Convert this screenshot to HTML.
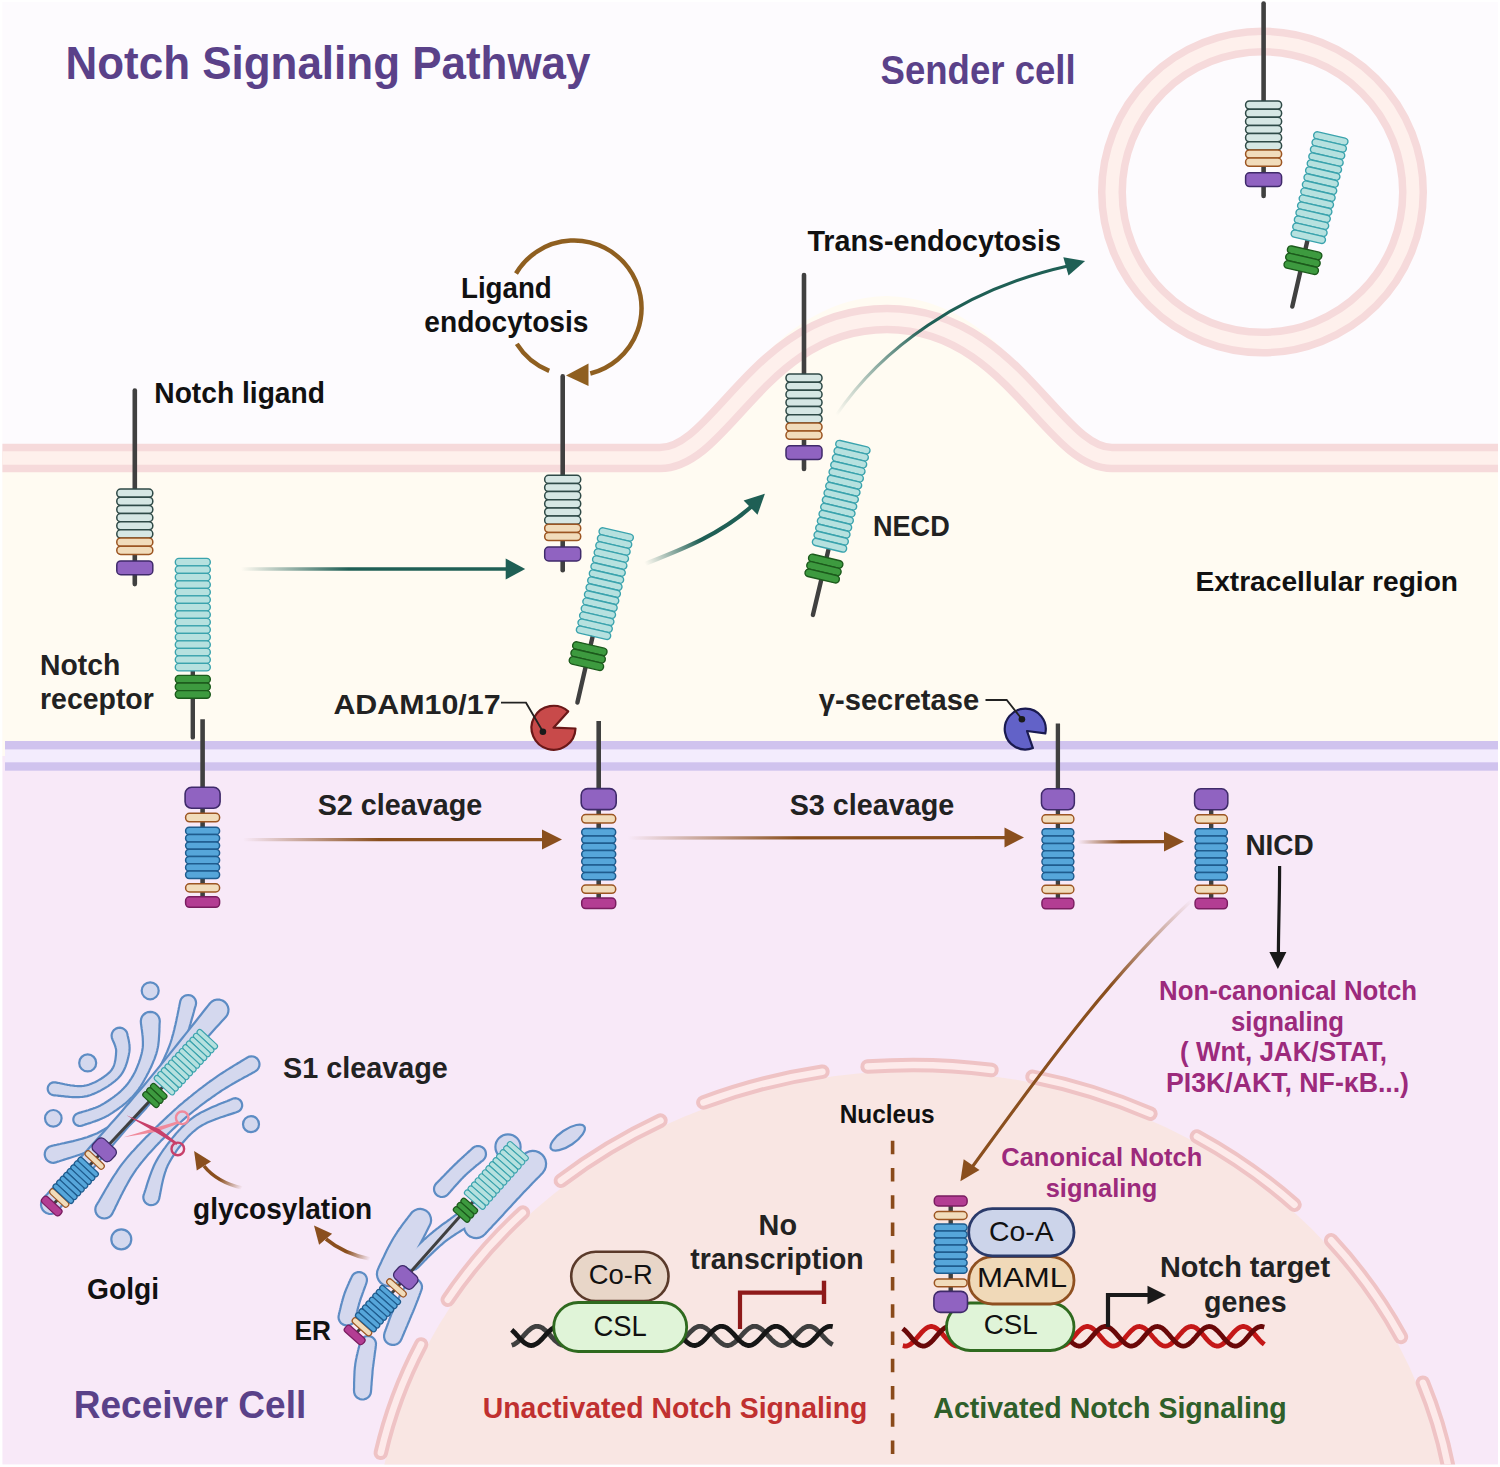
<!DOCTYPE html>
<html><head><meta charset="utf-8"><style>html,body{margin:0;padding:0;background:#fff;}svg{display:block;}</style></head>
<body><svg width="1500" height="1467" viewBox="0 0 1500 1467" font-family="Liberation Sans, sans-serif">
<defs>
<linearGradient id="fadeT1" x1="0" x2="1" y1="0" y2="0"><stop offset="0" stop-color="#1f5f55" stop-opacity="0"/><stop offset="0.35" stop-color="#1f5f55" stop-opacity="1"/></linearGradient>
<linearGradient id="fadeB1" x1="0" x2="1" y1="0" y2="0"><stop offset="0" stop-color="#8a4f1e" stop-opacity="0"/><stop offset="0.3" stop-color="#8a4f1e" stop-opacity="1"/></linearGradient>
</defs>
<rect x="0" y="0" width="1500" height="1467" fill="#ffffff"/>
<rect x="2.4" y="2" width="1495.6" height="760" fill="#fdfbfe"/>
<path d="M 2.4 458 L 650 458 C 718 458 752 300 887 296 C 1020 300 1058 458 1120 458 L 1498 458 L 1498 760 L 2.4 760 Z" fill="#fffbf2"/>
<rect x="2.4" y="756" width="1495.6" height="708.4" fill="#f8e9f8"/>
<path d="M 2.4 458 L 660 458 C 722 458 760 319 887 319 C 1012 319 1052 458 1112 458 L 1498 458" fill="none" stroke="#f6dadb" stroke-width="28.5"/>
<path d="M 2.4 458 L 660 458 C 722 458 760 319 887 319 C 1012 319 1052 458 1112 458 L 1498 458" fill="none" stroke="#fef0ec" stroke-width="13.5"/>
<circle cx="1262.5" cy="192" r="150.5" fill="none" stroke="#f6dadb" stroke-width="28"/>
<circle cx="1262.5" cy="192" r="150.5" fill="none" stroke="#fef0ec" stroke-width="13"/>
<rect x="5" y="741" width="1493" height="29.7" fill="#d0c3ee"/>
<rect x="5" y="749.4" width="1493" height="12.9" fill="#f3ecfd"/>
<clipPath id="pg"><rect x="2.4" y="2" width="1495.6" height="1462.4"/></clipPath>
<g clip-path="url(#pg)">
<ellipse cx="913.05" cy="1550.48" rx="537.3" ry="479.57" fill="#f9e6e3"/>
<path d="M 380.8 1452.8 A 543.3 485.57 0 0 1 421.1 1344.5" fill="none" stroke="#efc3c5" stroke-width="14.5" stroke-linecap="round"/>
<path d="M 380.8 1452.8 A 543.3 485.57 0 0 1 421.1 1344.5" fill="none" stroke="#fdeaea" stroke-width="6.5" stroke-linecap="round"/>
<path d="M 447.8 1299.7 A 543.3 485.57 0 0 1 522.9 1212.6" fill="none" stroke="#efc3c5" stroke-width="14.5" stroke-linecap="round"/>
<path d="M 447.8 1299.7 A 543.3 485.57 0 0 1 522.9 1212.6" fill="none" stroke="#fdeaea" stroke-width="6.5" stroke-linecap="round"/>
<path d="M 560.9 1180.7 A 543.3 485.57 0 0 1 660.5 1120.6" fill="none" stroke="#efc3c5" stroke-width="14.5" stroke-linecap="round"/>
<path d="M 560.9 1180.7 A 543.3 485.57 0 0 1 660.5 1120.6" fill="none" stroke="#fdeaea" stroke-width="6.5" stroke-linecap="round"/>
<path d="M 703.4 1102.5 A 543.3 485.57 0 0 1 822.4 1071.7" fill="none" stroke="#efc3c5" stroke-width="14.5" stroke-linecap="round"/>
<path d="M 703.4 1102.5 A 543.3 485.57 0 0 1 822.4 1071.7" fill="none" stroke="#fdeaea" stroke-width="6.5" stroke-linecap="round"/>
<path d="M 867.6 1066.6 A 543.3 485.57 0 0 1 991.5 1070.0" fill="none" stroke="#efc3c5" stroke-width="14.5" stroke-linecap="round"/>
<path d="M 867.6 1066.6 A 543.3 485.57 0 0 1 991.5 1070.0" fill="none" stroke="#fdeaea" stroke-width="6.5" stroke-linecap="round"/>
<path d="M 1032.5 1076.8 A 543.3 485.57 0 0 1 1150.4 1113.7" fill="none" stroke="#efc3c5" stroke-width="14.5" stroke-linecap="round"/>
<path d="M 1032.5 1076.8 A 543.3 485.57 0 0 1 1150.4 1113.7" fill="none" stroke="#fdeaea" stroke-width="6.5" stroke-linecap="round"/>
<path d="M 1196.9 1136.5 A 543.3 485.57 0 0 1 1294.5 1204.7" fill="none" stroke="#efc3c5" stroke-width="14.5" stroke-linecap="round"/>
<path d="M 1196.9 1136.5 A 543.3 485.57 0 0 1 1294.5 1204.7" fill="none" stroke="#fdeaea" stroke-width="6.5" stroke-linecap="round"/>
<path d="M 1331.1 1240.3 A 543.3 485.57 0 0 1 1400.9 1336.9" fill="none" stroke="#efc3c5" stroke-width="14.5" stroke-linecap="round"/>
<path d="M 1331.1 1240.3 A 543.3 485.57 0 0 1 1400.9 1336.9" fill="none" stroke="#fdeaea" stroke-width="6.5" stroke-linecap="round"/>
<path d="M 1422.9 1382.8 A 543.3 485.57 0 0 1 1451.1 1482.9" fill="none" stroke="#efc3c5" stroke-width="14.5" stroke-linecap="round"/>
<path d="M 1422.9 1382.8 A 543.3 485.57 0 0 1 1451.1 1482.9" fill="none" stroke="#fdeaea" stroke-width="6.5" stroke-linecap="round"/>
</g>
<g transform="translate(134.8,489.1)"><line x1="0" y1="-98.60000000000002" x2="0" y2="95" stroke="#404040" stroke-width="4.6" stroke-linecap="round"/><rect x="-18.0" y="0.00" width="36" height="8.15" rx="3.8" fill="#d6e7e4" stroke="#2f4a47" stroke-width="1.5"/><rect x="-18.0" y="8.15" width="36" height="8.15" rx="3.8" fill="#d6e7e4" stroke="#2f4a47" stroke-width="1.5"/><rect x="-18.0" y="16.30" width="36" height="8.15" rx="3.8" fill="#d6e7e4" stroke="#2f4a47" stroke-width="1.5"/><rect x="-18.0" y="24.45" width="36" height="8.15" rx="3.8" fill="#d6e7e4" stroke="#2f4a47" stroke-width="1.5"/><rect x="-18.0" y="32.60" width="36" height="8.15" rx="3.8" fill="#d6e7e4" stroke="#2f4a47" stroke-width="1.5"/><rect x="-18.0" y="40.75" width="36" height="8.15" rx="3.8" fill="#d6e7e4" stroke="#2f4a47" stroke-width="1.5"/><rect x="-18.0" y="48.90" width="36" height="8.2" rx="3.8" fill="#f1dcbb" stroke="#9c5522" stroke-width="1.5"/><rect x="-18.0" y="57.10" width="36" height="8.2" rx="3.8" fill="#f1dcbb" stroke="#9c5522" stroke-width="1.5"/><rect x="-18" y="71.8" width="36" height="13.8" rx="4" fill="#9063c1" stroke="#3f2a6a" stroke-width="1.5"/></g>
<g transform="translate(562.7,475.3)"><line x1="0" y1="-98.90000000000003" x2="0" y2="95" stroke="#404040" stroke-width="4.6" stroke-linecap="round"/><rect x="-18.0" y="0.00" width="36" height="8.15" rx="3.8" fill="#d6e7e4" stroke="#2f4a47" stroke-width="1.5"/><rect x="-18.0" y="8.15" width="36" height="8.15" rx="3.8" fill="#d6e7e4" stroke="#2f4a47" stroke-width="1.5"/><rect x="-18.0" y="16.30" width="36" height="8.15" rx="3.8" fill="#d6e7e4" stroke="#2f4a47" stroke-width="1.5"/><rect x="-18.0" y="24.45" width="36" height="8.15" rx="3.8" fill="#d6e7e4" stroke="#2f4a47" stroke-width="1.5"/><rect x="-18.0" y="32.60" width="36" height="8.15" rx="3.8" fill="#d6e7e4" stroke="#2f4a47" stroke-width="1.5"/><rect x="-18.0" y="40.75" width="36" height="8.15" rx="3.8" fill="#d6e7e4" stroke="#2f4a47" stroke-width="1.5"/><rect x="-18.0" y="48.90" width="36" height="8.2" rx="3.8" fill="#f1dcbb" stroke="#9c5522" stroke-width="1.5"/><rect x="-18.0" y="57.10" width="36" height="8.2" rx="3.8" fill="#f1dcbb" stroke="#9c5522" stroke-width="1.5"/><rect x="-18" y="71.8" width="36" height="13.8" rx="4" fill="#9063c1" stroke="#3f2a6a" stroke-width="1.5"/></g>
<g transform="translate(804,374)"><line x1="0" y1="-99" x2="0" y2="95" stroke="#404040" stroke-width="4.6" stroke-linecap="round"/><rect x="-18.0" y="0.00" width="36" height="8.15" rx="3.8" fill="#d6e7e4" stroke="#2f4a47" stroke-width="1.5"/><rect x="-18.0" y="8.15" width="36" height="8.15" rx="3.8" fill="#d6e7e4" stroke="#2f4a47" stroke-width="1.5"/><rect x="-18.0" y="16.30" width="36" height="8.15" rx="3.8" fill="#d6e7e4" stroke="#2f4a47" stroke-width="1.5"/><rect x="-18.0" y="24.45" width="36" height="8.15" rx="3.8" fill="#d6e7e4" stroke="#2f4a47" stroke-width="1.5"/><rect x="-18.0" y="32.60" width="36" height="8.15" rx="3.8" fill="#d6e7e4" stroke="#2f4a47" stroke-width="1.5"/><rect x="-18.0" y="40.75" width="36" height="8.15" rx="3.8" fill="#d6e7e4" stroke="#2f4a47" stroke-width="1.5"/><rect x="-18.0" y="48.90" width="36" height="8.2" rx="3.8" fill="#f1dcbb" stroke="#9c5522" stroke-width="1.5"/><rect x="-18.0" y="57.10" width="36" height="8.2" rx="3.8" fill="#f1dcbb" stroke="#9c5522" stroke-width="1.5"/><rect x="-18" y="71.8" width="36" height="13.8" rx="4" fill="#9063c1" stroke="#3f2a6a" stroke-width="1.5"/></g>
<g transform="translate(1263.6,101)"><line x1="0" y1="-97.5" x2="0" y2="95" stroke="#404040" stroke-width="4.6" stroke-linecap="round"/><rect x="-18.0" y="0.00" width="36" height="8.15" rx="3.8" fill="#d6e7e4" stroke="#2f4a47" stroke-width="1.5"/><rect x="-18.0" y="8.15" width="36" height="8.15" rx="3.8" fill="#d6e7e4" stroke="#2f4a47" stroke-width="1.5"/><rect x="-18.0" y="16.30" width="36" height="8.15" rx="3.8" fill="#d6e7e4" stroke="#2f4a47" stroke-width="1.5"/><rect x="-18.0" y="24.45" width="36" height="8.15" rx="3.8" fill="#d6e7e4" stroke="#2f4a47" stroke-width="1.5"/><rect x="-18.0" y="32.60" width="36" height="8.15" rx="3.8" fill="#d6e7e4" stroke="#2f4a47" stroke-width="1.5"/><rect x="-18.0" y="40.75" width="36" height="8.15" rx="3.8" fill="#d6e7e4" stroke="#2f4a47" stroke-width="1.5"/><rect x="-18.0" y="48.90" width="36" height="8.2" rx="3.8" fill="#f1dcbb" stroke="#9c5522" stroke-width="1.5"/><rect x="-18.0" y="57.10" width="36" height="8.2" rx="3.8" fill="#f1dcbb" stroke="#9c5522" stroke-width="1.5"/><rect x="-18" y="71.8" width="36" height="13.8" rx="4" fill="#9063c1" stroke="#3f2a6a" stroke-width="1.5"/></g>
<g transform="translate(192.8,558.4) rotate(0)"><line x1="0" y1="110.5" x2="0" y2="179" stroke="#404040" stroke-width="4.4" stroke-linecap="round"/><rect x="-17.5" y="0.00" width="35" height="7.5" rx="3.6" fill="#b6e1df" stroke="#3aa3ad" stroke-width="1.4"/><rect x="-17.5" y="7.50" width="35" height="7.5" rx="3.6" fill="#b6e1df" stroke="#3aa3ad" stroke-width="1.4"/><rect x="-17.5" y="15.00" width="35" height="7.5" rx="3.6" fill="#b6e1df" stroke="#3aa3ad" stroke-width="1.4"/><rect x="-17.5" y="22.50" width="35" height="7.5" rx="3.6" fill="#b6e1df" stroke="#3aa3ad" stroke-width="1.4"/><rect x="-17.5" y="30.00" width="35" height="7.5" rx="3.6" fill="#b6e1df" stroke="#3aa3ad" stroke-width="1.4"/><rect x="-17.5" y="37.50" width="35" height="7.5" rx="3.6" fill="#b6e1df" stroke="#3aa3ad" stroke-width="1.4"/><rect x="-17.5" y="45.00" width="35" height="7.5" rx="3.6" fill="#b6e1df" stroke="#3aa3ad" stroke-width="1.4"/><rect x="-17.5" y="52.50" width="35" height="7.5" rx="3.6" fill="#b6e1df" stroke="#3aa3ad" stroke-width="1.4"/><rect x="-17.5" y="60.00" width="35" height="7.5" rx="3.6" fill="#b6e1df" stroke="#3aa3ad" stroke-width="1.4"/><rect x="-17.5" y="67.50" width="35" height="7.5" rx="3.6" fill="#b6e1df" stroke="#3aa3ad" stroke-width="1.4"/><rect x="-17.5" y="75.00" width="35" height="7.5" rx="3.6" fill="#b6e1df" stroke="#3aa3ad" stroke-width="1.4"/><rect x="-17.5" y="82.50" width="35" height="7.5" rx="3.6" fill="#b6e1df" stroke="#3aa3ad" stroke-width="1.4"/><rect x="-17.5" y="90.00" width="35" height="7.5" rx="3.6" fill="#b6e1df" stroke="#3aa3ad" stroke-width="1.4"/><rect x="-17.5" y="97.50" width="35" height="7.5" rx="3.6" fill="#b6e1df" stroke="#3aa3ad" stroke-width="1.4"/><rect x="-17.5" y="105.00" width="35" height="7.5" rx="3.6" fill="#b6e1df" stroke="#3aa3ad" stroke-width="1.4"/><rect x="-17.5" y="117.00" width="35" height="7.6" rx="3.6" fill="#3d9a3f" stroke="#1c5a1c" stroke-width="1.4"/><rect x="-17.5" y="124.60" width="35" height="7.6" rx="3.6" fill="#3d9a3f" stroke="#1c5a1c" stroke-width="1.4"/><rect x="-17.5" y="132.20" width="35" height="7.6" rx="3.6" fill="#3d9a3f" stroke="#1c5a1c" stroke-width="1.4"/></g>
<g transform="translate(617,531) rotate(13)"><line x1="0" y1="106" x2="0" y2="176" stroke="#404040" stroke-width="4.4" stroke-linecap="round"/><rect x="-17.5" y="0.00" width="35" height="7.2" rx="3.6" fill="#b6e1df" stroke="#3aa3ad" stroke-width="1.4"/><rect x="-17.5" y="7.20" width="35" height="7.2" rx="3.6" fill="#b6e1df" stroke="#3aa3ad" stroke-width="1.4"/><rect x="-17.5" y="14.40" width="35" height="7.2" rx="3.6" fill="#b6e1df" stroke="#3aa3ad" stroke-width="1.4"/><rect x="-17.5" y="21.60" width="35" height="7.2" rx="3.6" fill="#b6e1df" stroke="#3aa3ad" stroke-width="1.4"/><rect x="-17.5" y="28.80" width="35" height="7.2" rx="3.6" fill="#b6e1df" stroke="#3aa3ad" stroke-width="1.4"/><rect x="-17.5" y="36.00" width="35" height="7.2" rx="3.6" fill="#b6e1df" stroke="#3aa3ad" stroke-width="1.4"/><rect x="-17.5" y="43.20" width="35" height="7.2" rx="3.6" fill="#b6e1df" stroke="#3aa3ad" stroke-width="1.4"/><rect x="-17.5" y="50.40" width="35" height="7.2" rx="3.6" fill="#b6e1df" stroke="#3aa3ad" stroke-width="1.4"/><rect x="-17.5" y="57.60" width="35" height="7.2" rx="3.6" fill="#b6e1df" stroke="#3aa3ad" stroke-width="1.4"/><rect x="-17.5" y="64.80" width="35" height="7.2" rx="3.6" fill="#b6e1df" stroke="#3aa3ad" stroke-width="1.4"/><rect x="-17.5" y="72.00" width="35" height="7.2" rx="3.6" fill="#b6e1df" stroke="#3aa3ad" stroke-width="1.4"/><rect x="-17.5" y="79.20" width="35" height="7.2" rx="3.6" fill="#b6e1df" stroke="#3aa3ad" stroke-width="1.4"/><rect x="-17.5" y="86.40" width="35" height="7.2" rx="3.6" fill="#b6e1df" stroke="#3aa3ad" stroke-width="1.4"/><rect x="-17.5" y="93.60" width="35" height="7.2" rx="3.6" fill="#b6e1df" stroke="#3aa3ad" stroke-width="1.4"/><rect x="-17.5" y="100.80" width="35" height="7.2" rx="3.6" fill="#b6e1df" stroke="#3aa3ad" stroke-width="1.4"/><rect x="-17.5" y="117.00" width="35" height="7.6" rx="3.6" fill="#3d9a3f" stroke="#1c5a1c" stroke-width="1.4"/><rect x="-17.5" y="124.60" width="35" height="7.6" rx="3.6" fill="#3d9a3f" stroke="#1c5a1c" stroke-width="1.4"/><rect x="-17.5" y="132.20" width="35" height="7.6" rx="3.6" fill="#3d9a3f" stroke="#1c5a1c" stroke-width="1.4"/></g>
<g transform="translate(853.7,443.7) rotate(13.4)"><line x1="0" y1="106" x2="0" y2="176" stroke="#404040" stroke-width="4.4" stroke-linecap="round"/><rect x="-17.5" y="0.00" width="35" height="7.2" rx="3.6" fill="#b6e1df" stroke="#3aa3ad" stroke-width="1.4"/><rect x="-17.5" y="7.20" width="35" height="7.2" rx="3.6" fill="#b6e1df" stroke="#3aa3ad" stroke-width="1.4"/><rect x="-17.5" y="14.40" width="35" height="7.2" rx="3.6" fill="#b6e1df" stroke="#3aa3ad" stroke-width="1.4"/><rect x="-17.5" y="21.60" width="35" height="7.2" rx="3.6" fill="#b6e1df" stroke="#3aa3ad" stroke-width="1.4"/><rect x="-17.5" y="28.80" width="35" height="7.2" rx="3.6" fill="#b6e1df" stroke="#3aa3ad" stroke-width="1.4"/><rect x="-17.5" y="36.00" width="35" height="7.2" rx="3.6" fill="#b6e1df" stroke="#3aa3ad" stroke-width="1.4"/><rect x="-17.5" y="43.20" width="35" height="7.2" rx="3.6" fill="#b6e1df" stroke="#3aa3ad" stroke-width="1.4"/><rect x="-17.5" y="50.40" width="35" height="7.2" rx="3.6" fill="#b6e1df" stroke="#3aa3ad" stroke-width="1.4"/><rect x="-17.5" y="57.60" width="35" height="7.2" rx="3.6" fill="#b6e1df" stroke="#3aa3ad" stroke-width="1.4"/><rect x="-17.5" y="64.80" width="35" height="7.2" rx="3.6" fill="#b6e1df" stroke="#3aa3ad" stroke-width="1.4"/><rect x="-17.5" y="72.00" width="35" height="7.2" rx="3.6" fill="#b6e1df" stroke="#3aa3ad" stroke-width="1.4"/><rect x="-17.5" y="79.20" width="35" height="7.2" rx="3.6" fill="#b6e1df" stroke="#3aa3ad" stroke-width="1.4"/><rect x="-17.5" y="86.40" width="35" height="7.2" rx="3.6" fill="#b6e1df" stroke="#3aa3ad" stroke-width="1.4"/><rect x="-17.5" y="93.60" width="35" height="7.2" rx="3.6" fill="#b6e1df" stroke="#3aa3ad" stroke-width="1.4"/><rect x="-17.5" y="100.80" width="35" height="7.2" rx="3.6" fill="#b6e1df" stroke="#3aa3ad" stroke-width="1.4"/><rect x="-17.5" y="117.00" width="35" height="7.6" rx="3.6" fill="#3d9a3f" stroke="#1c5a1c" stroke-width="1.4"/><rect x="-17.5" y="124.60" width="35" height="7.6" rx="3.6" fill="#3d9a3f" stroke="#1c5a1c" stroke-width="1.4"/><rect x="-17.5" y="132.20" width="35" height="7.6" rx="3.6" fill="#3d9a3f" stroke="#1c5a1c" stroke-width="1.4"/></g>
<g transform="translate(1331.6,135) rotate(12.9)"><line x1="0" y1="106" x2="0" y2="176" stroke="#404040" stroke-width="4.4" stroke-linecap="round"/><rect x="-17.5" y="0.00" width="35" height="7.2" rx="3.6" fill="#b6e1df" stroke="#3aa3ad" stroke-width="1.4"/><rect x="-17.5" y="7.20" width="35" height="7.2" rx="3.6" fill="#b6e1df" stroke="#3aa3ad" stroke-width="1.4"/><rect x="-17.5" y="14.40" width="35" height="7.2" rx="3.6" fill="#b6e1df" stroke="#3aa3ad" stroke-width="1.4"/><rect x="-17.5" y="21.60" width="35" height="7.2" rx="3.6" fill="#b6e1df" stroke="#3aa3ad" stroke-width="1.4"/><rect x="-17.5" y="28.80" width="35" height="7.2" rx="3.6" fill="#b6e1df" stroke="#3aa3ad" stroke-width="1.4"/><rect x="-17.5" y="36.00" width="35" height="7.2" rx="3.6" fill="#b6e1df" stroke="#3aa3ad" stroke-width="1.4"/><rect x="-17.5" y="43.20" width="35" height="7.2" rx="3.6" fill="#b6e1df" stroke="#3aa3ad" stroke-width="1.4"/><rect x="-17.5" y="50.40" width="35" height="7.2" rx="3.6" fill="#b6e1df" stroke="#3aa3ad" stroke-width="1.4"/><rect x="-17.5" y="57.60" width="35" height="7.2" rx="3.6" fill="#b6e1df" stroke="#3aa3ad" stroke-width="1.4"/><rect x="-17.5" y="64.80" width="35" height="7.2" rx="3.6" fill="#b6e1df" stroke="#3aa3ad" stroke-width="1.4"/><rect x="-17.5" y="72.00" width="35" height="7.2" rx="3.6" fill="#b6e1df" stroke="#3aa3ad" stroke-width="1.4"/><rect x="-17.5" y="79.20" width="35" height="7.2" rx="3.6" fill="#b6e1df" stroke="#3aa3ad" stroke-width="1.4"/><rect x="-17.5" y="86.40" width="35" height="7.2" rx="3.6" fill="#b6e1df" stroke="#3aa3ad" stroke-width="1.4"/><rect x="-17.5" y="93.60" width="35" height="7.2" rx="3.6" fill="#b6e1df" stroke="#3aa3ad" stroke-width="1.4"/><rect x="-17.5" y="100.80" width="35" height="7.2" rx="3.6" fill="#b6e1df" stroke="#3aa3ad" stroke-width="1.4"/><rect x="-17.5" y="117.00" width="35" height="7.6" rx="3.6" fill="#3d9a3f" stroke="#1c5a1c" stroke-width="1.4"/><rect x="-17.5" y="124.60" width="35" height="7.6" rx="3.6" fill="#3d9a3f" stroke="#1c5a1c" stroke-width="1.4"/><rect x="-17.5" y="132.20" width="35" height="7.6" rx="3.6" fill="#3d9a3f" stroke="#1c5a1c" stroke-width="1.4"/></g>
<g transform="translate(202.6,787.3) scale(1.0,1)"><line x1="0" y1="-68.0" x2="0" y2="112" stroke="#404040" stroke-width="4.6"/><rect x="-17.5" y="0" width="35" height="21" rx="6.5" fill="#9063c1" stroke="#3f2a6a" stroke-width="1.6"/><rect x="-17" y="26" width="34" height="8.5" rx="4" fill="#f1dcbb" stroke="#9c5522" stroke-width="1.5"/><rect x="-17.0" y="40.00" width="34" height="7.3" rx="3.6" fill="#56a6da" stroke="#1f5c8e" stroke-width="1.5"/><rect x="-17.0" y="47.30" width="34" height="7.3" rx="3.6" fill="#56a6da" stroke="#1f5c8e" stroke-width="1.5"/><rect x="-17.0" y="54.60" width="34" height="7.3" rx="3.6" fill="#56a6da" stroke="#1f5c8e" stroke-width="1.5"/><rect x="-17.0" y="61.90" width="34" height="7.3" rx="3.6" fill="#56a6da" stroke="#1f5c8e" stroke-width="1.5"/><rect x="-17.0" y="69.20" width="34" height="7.3" rx="3.6" fill="#56a6da" stroke="#1f5c8e" stroke-width="1.5"/><rect x="-17.0" y="76.50" width="34" height="7.3" rx="3.6" fill="#56a6da" stroke="#1f5c8e" stroke-width="1.5"/><rect x="-17.0" y="83.80" width="34" height="7.3" rx="3.6" fill="#56a6da" stroke="#1f5c8e" stroke-width="1.5"/><rect x="-17" y="96.5" width="34" height="8.2" rx="4" fill="#f1dcbb" stroke="#9c5522" stroke-width="1.5"/><rect x="-17" y="109.5" width="34" height="10.5" rx="4" fill="#b33d93" stroke="#7a1d60" stroke-width="1.5"/></g>
<g transform="translate(598.7,788.6) scale(1.0,1)"><line x1="0" y1="-67.60000000000002" x2="0" y2="112" stroke="#404040" stroke-width="4.6"/><rect x="-17.5" y="0" width="35" height="21" rx="6.5" fill="#9063c1" stroke="#3f2a6a" stroke-width="1.6"/><rect x="-17" y="26" width="34" height="8.5" rx="4" fill="#f1dcbb" stroke="#9c5522" stroke-width="1.5"/><rect x="-17.0" y="40.00" width="34" height="7.3" rx="3.6" fill="#56a6da" stroke="#1f5c8e" stroke-width="1.5"/><rect x="-17.0" y="47.30" width="34" height="7.3" rx="3.6" fill="#56a6da" stroke="#1f5c8e" stroke-width="1.5"/><rect x="-17.0" y="54.60" width="34" height="7.3" rx="3.6" fill="#56a6da" stroke="#1f5c8e" stroke-width="1.5"/><rect x="-17.0" y="61.90" width="34" height="7.3" rx="3.6" fill="#56a6da" stroke="#1f5c8e" stroke-width="1.5"/><rect x="-17.0" y="69.20" width="34" height="7.3" rx="3.6" fill="#56a6da" stroke="#1f5c8e" stroke-width="1.5"/><rect x="-17.0" y="76.50" width="34" height="7.3" rx="3.6" fill="#56a6da" stroke="#1f5c8e" stroke-width="1.5"/><rect x="-17.0" y="83.80" width="34" height="7.3" rx="3.6" fill="#56a6da" stroke="#1f5c8e" stroke-width="1.5"/><rect x="-17" y="96.5" width="34" height="8.2" rx="4" fill="#f1dcbb" stroke="#9c5522" stroke-width="1.5"/><rect x="-17" y="109.5" width="34" height="10.5" rx="4" fill="#b33d93" stroke="#7a1d60" stroke-width="1.5"/></g>
<g transform="translate(1057.9,788.8) scale(0.94,1)"><line x1="0" y1="-65.39999999999998" x2="0" y2="112" stroke="#404040" stroke-width="4.6"/><rect x="-17.5" y="0" width="35" height="21" rx="6.5" fill="#9063c1" stroke="#3f2a6a" stroke-width="1.6"/><rect x="-17" y="26" width="34" height="8.5" rx="4" fill="#f1dcbb" stroke="#9c5522" stroke-width="1.5"/><rect x="-17.0" y="40.00" width="34" height="7.3" rx="3.6" fill="#56a6da" stroke="#1f5c8e" stroke-width="1.5"/><rect x="-17.0" y="47.30" width="34" height="7.3" rx="3.6" fill="#56a6da" stroke="#1f5c8e" stroke-width="1.5"/><rect x="-17.0" y="54.60" width="34" height="7.3" rx="3.6" fill="#56a6da" stroke="#1f5c8e" stroke-width="1.5"/><rect x="-17.0" y="61.90" width="34" height="7.3" rx="3.6" fill="#56a6da" stroke="#1f5c8e" stroke-width="1.5"/><rect x="-17.0" y="69.20" width="34" height="7.3" rx="3.6" fill="#56a6da" stroke="#1f5c8e" stroke-width="1.5"/><rect x="-17.0" y="76.50" width="34" height="7.3" rx="3.6" fill="#56a6da" stroke="#1f5c8e" stroke-width="1.5"/><rect x="-17.0" y="83.80" width="34" height="7.3" rx="3.6" fill="#56a6da" stroke="#1f5c8e" stroke-width="1.5"/><rect x="-17" y="96.5" width="34" height="8.2" rx="4" fill="#f1dcbb" stroke="#9c5522" stroke-width="1.5"/><rect x="-17" y="109.5" width="34" height="10.5" rx="4" fill="#b33d93" stroke="#7a1d60" stroke-width="1.5"/></g>
<g transform="translate(1211.2,788.8) scale(0.95,1)"><line x1="0" y1="10" x2="0" y2="112" stroke="#404040" stroke-width="4.6"/><rect x="-17.5" y="0" width="35" height="21" rx="6.5" fill="#9063c1" stroke="#3f2a6a" stroke-width="1.6"/><rect x="-17" y="26" width="34" height="8.5" rx="4" fill="#f1dcbb" stroke="#9c5522" stroke-width="1.5"/><rect x="-17.0" y="40.00" width="34" height="7.3" rx="3.6" fill="#56a6da" stroke="#1f5c8e" stroke-width="1.5"/><rect x="-17.0" y="47.30" width="34" height="7.3" rx="3.6" fill="#56a6da" stroke="#1f5c8e" stroke-width="1.5"/><rect x="-17.0" y="54.60" width="34" height="7.3" rx="3.6" fill="#56a6da" stroke="#1f5c8e" stroke-width="1.5"/><rect x="-17.0" y="61.90" width="34" height="7.3" rx="3.6" fill="#56a6da" stroke="#1f5c8e" stroke-width="1.5"/><rect x="-17.0" y="69.20" width="34" height="7.3" rx="3.6" fill="#56a6da" stroke="#1f5c8e" stroke-width="1.5"/><rect x="-17.0" y="76.50" width="34" height="7.3" rx="3.6" fill="#56a6da" stroke="#1f5c8e" stroke-width="1.5"/><rect x="-17.0" y="83.80" width="34" height="7.3" rx="3.6" fill="#56a6da" stroke="#1f5c8e" stroke-width="1.5"/><rect x="-17" y="96.5" width="34" height="8.2" rx="4" fill="#f1dcbb" stroke="#9c5522" stroke-width="1.5"/><rect x="-17" y="109.5" width="34" height="10.5" rx="4" fill="#b33d93" stroke="#7a1d60" stroke-width="1.5"/></g>
<linearGradient id="ga1" gradientUnits="userSpaceOnUse" x1="241" y1="569" x2="510" y2="569"><stop offset="0" stop-color="#1f5f55" stop-opacity="0"/><stop offset="0.4" stop-color="#1f5f55" stop-opacity="1"/></linearGradient>
<path d="M 241 569 L 508 569" stroke="url(#ga1)" stroke-width="3.4" fill="none"/>
<path d="M 525.2 569.0 L 505.7 579.5 L 505.7 558.5 Z" fill="#1f5f55"/>
<linearGradient id="ga2" gradientUnits="userSpaceOnUse" x1="645" y1="564" x2="750" y2="507"><stop offset="0" stop-color="#1f5f55" stop-opacity="0"/><stop offset="0.5" stop-color="#1f5f55" stop-opacity="1"/></linearGradient>
<path d="M 644.9 563.9 C 680 550 720 535 752 506" stroke="url(#ga2)" stroke-width="4.2" fill="none"/>
<path d="M 764.9 493.7 L 757.5 514.8 L 743.6 500.4 Z" fill="#1f5f55"/>
<linearGradient id="ga3" gradientUnits="userSpaceOnUse" x1="836" y1="415" x2="960" y2="300"><stop offset="0" stop-color="#1f5f55" stop-opacity="0"/><stop offset="0.75" stop-color="#1f5f55" stop-opacity="1"/></linearGradient>
<path d="M 836 415.5 C 880 350 960 290 1068 266" stroke="url(#ga3)" stroke-width="3.1" fill="none"/>
<path d="M 1085.1 260.9 L 1068.5 275.5 L 1063.3 257.3 Z" fill="#1f5f55"/>
<linearGradient id="gb1" gradientUnits="userSpaceOnUse" x1="243" y1="840" x2="545" y2="840"><stop offset="0" stop-color="#8a4f1e" stop-opacity="0"/><stop offset="0.45" stop-color="#8a4f1e" stop-opacity="1"/></linearGradient>
<path d="M 243 839.6 L 545 839.6" stroke="url(#gb1)" stroke-width="3.4" fill="none"/>
<path d="M 562.0 839.6 L 542.0 849.6 L 542.0 829.6 Z" fill="#8a4f1e"/>
<linearGradient id="gb2" gradientUnits="userSpaceOnUse" x1="628" y1="838" x2="1005" y2="838"><stop offset="0" stop-color="#8a4f1e" stop-opacity="0"/><stop offset="0.45" stop-color="#8a4f1e" stop-opacity="1"/></linearGradient>
<path d="M 628 838 L 1006 837.6" stroke="url(#gb2)" stroke-width="3.4" fill="none"/>
<path d="M 1024.0 837.5 L 1004.5 847.5 L 1004.5 827.5 Z" fill="#8a4f1e"/>
<linearGradient id="gb3" gradientUnits="userSpaceOnUse" x1="1078" y1="842" x2="1165" y2="842"><stop offset="0" stop-color="#8a4f1e" stop-opacity="0"/><stop offset="0.5" stop-color="#8a4f1e" stop-opacity="1"/></linearGradient>
<path d="M 1078 842 L 1166 841.6" stroke="url(#gb3)" stroke-width="3.4" fill="none"/>
<path d="M 1184.0 841.6 L 1164.0 851.6 L 1164.0 831.6 Z" fill="#8a4f1e"/>
<path d="M 516.0 273.5 A 67.5 67.5 0 1 1 590.3 373.5" stroke="#8f5f20" stroke-width="4.5" fill="none"/>
<path d="M 549.2 370.8 A 67.5 67.5 0 0 1 516.8 343.9" stroke="#8f5f20" stroke-width="4.5" fill="none"/>
<path d="M 566 375.5 L 588.5 363.5 L 588.5 386 Z" fill="#8f5f20"/>
<linearGradient id="gc1" gradientUnits="userSpaceOnUse" x1="1192" y1="900" x2="1060" y2="1048"><stop offset="0" stop-color="#8a4f1e" stop-opacity="0"/><stop offset="0.6" stop-color="#8a4f1e" stop-opacity="1"/></linearGradient>
<path d="M 1192 900 C 1106 980 1038.5 1076 970 1170" stroke="url(#gc1)" stroke-width="3.1" fill="none"/>
<path d="M 960.4 1181.2 L 963.7 1159.3 L 979.5 1169.9 Z" fill="#8a4f1e"/>
<path d="M 1279.6 866 C 1279.6 900 1278.4 930 1278.4 954" stroke="#1a1a1a" stroke-width="3.2" fill="none"/>
<path d="M 1277.9 969.0 L 1269.4 952.0 L 1286.4 952.0 Z" fill="#1a1a1a"/>
<path d="M 553.5 727.7 L 575.5 728.5 A 22 22 0 1 1 568.2 711.4 Z" fill="#c84a4a" stroke="#6a1818" stroke-width="2.2" stroke-linejoin="round"/>
<path d="M 501 702.7 L 526 702.7 L 543 731.8" stroke="#222" stroke-width="1.8" fill="none"/>
<circle cx="542.9" cy="731.8" r="3.3" fill="#1a1a1a"/>
<path d="M 1027 731 L 1032.9 748.1 A 20.5 20.5 0 1 1 1045.3 733.4 Z" fill="#6262c8" stroke="#1a1a50" stroke-width="2.2" stroke-linejoin="round"/>
<path d="M 985.5 700 L 1006.7 700 L 1022 719.3" stroke="#222" stroke-width="1.8" fill="none"/>
<circle cx="1021.9" cy="719.3" r="3.3" fill="#1a1a1a"/>
<line x1="892.6" y1="1140.8" x2="892.6" y2="1464" stroke="#8a4a1a" stroke-width="3.6" stroke-dasharray="13.5 13.75"/>
<polyline points="511.7,1345.3 513.2,1344.8 514.7,1344.1 516.2,1343.1 517.7,1341.9 519.2,1340.5 520.7,1339.0 522.2,1337.3 523.7,1335.7 525.2,1334.0 526.7,1332.4 528.2,1330.9 529.7,1329.6 531.2,1328.4 532.7,1327.5 534.2,1326.8 535.7,1326.4 537.2,1326.3 538.7,1326.5 540.2,1326.9 541.7,1327.6 543.2,1328.6 544.7,1329.8 546.2,1331.1 547.7,1332.6 549.2,1334.2 550.7,1335.9 552.2,1337.6 553.7,1339.2 555.2,1340.7 556.7,1342.0 558.2,1343.2 559.7,1344.2 561.2,1344.9 562.7,1345.3 564.2,1345.5 565.7,1345.4 567.2,1345.0 568.7,1344.3 570.2,1343.4 571.7,1342.2 573.2,1340.9 574.7,1339.4 576.2,1337.8 577.7,1336.1 579.2,1334.5 580.7,1332.8 582.2,1331.3 583.7,1329.9 585.2,1328.7 586.7,1327.7 588.2,1327.0 589.7,1326.5 591.2,1326.3 592.7,1326.4 594.2,1326.8 595.7,1327.4 597.2,1328.3 598.7,1329.4 600.2,1330.8 601.7,1332.2 603.2,1333.8 604.7,1335.5 606.2,1337.1 607.7,1338.7 609.2,1340.3 610.7,1341.7 612.2,1342.9 613.7,1343.9 615.2,1344.7 616.7,1345.2 618.2,1345.5 619.7,1345.4 621.2,1345.1 622.7,1344.5 624.2,1343.6 625.7,1342.5 627.2,1341.2 628.7,1339.8 630.2,1338.2 631.7,1336.6 633.2,1334.9 634.7,1333.3 636.2,1331.7 637.7,1330.3 639.2,1329.0 640.7,1328.0 642.2,1327.2 643.7,1326.6 645.2,1326.3 646.7,1326.3 648.2,1326.6 649.7,1327.2 651.2,1328.0 652.7,1329.1 654.2,1330.4 655.7,1331.8 657.2,1333.4 658.7,1335.0 660.2,1336.7 661.7,1338.3 663.2,1339.9 664.7,1341.3 666.2,1342.6 667.7,1343.7 669.2,1344.5 670.7,1345.1 672.2,1345.4 673.7,1345.5 675.2,1345.2 676.7,1344.7 678.2,1343.9 679.7,1342.8 681.2,1341.6 682.7,1340.2 684.2,1338.6 685.7,1337.0 687.2,1335.3 688.7,1333.7 690.2,1332.1 691.7,1330.7 693.2,1329.4 694.7,1328.2 696.2,1327.4 697.7,1326.7 699.2,1326.4 700.7,1326.3 702.2,1326.5 703.7,1327.0 705.2,1327.8 706.7,1328.8 708.2,1330.0 709.7,1331.4 711.2,1333.0 712.7,1334.6 714.2,1336.2 715.7,1337.9 717.2,1339.5 718.7,1341.0 720.2,1342.3 721.7,1343.4 723.2,1344.3 724.7,1345.0 726.2,1345.4 727.7,1345.5 729.2,1345.3 730.7,1344.9 732.2,1344.1 733.7,1343.1 735.2,1341.9 736.7,1340.6 738.2,1339.1 739.7,1337.4 741.2,1335.8 742.7,1334.1 744.2,1332.5 745.7,1331.0 747.2,1329.7 748.7,1328.5 750.2,1327.6 751.7,1326.9 753.2,1326.4 754.7,1326.3 756.2,1326.4 757.7,1326.9 759.2,1327.6 760.7,1328.5 762.2,1329.7 763.7,1331.0 765.2,1332.5 766.7,1334.1 768.2,1335.8 769.7,1337.4 771.2,1339.1 772.7,1340.6 774.2,1341.9 775.7,1343.1 777.2,1344.1 778.7,1344.9 780.2,1345.3 781.7,1345.5 783.2,1345.4 784.7,1345.0 786.2,1344.3 787.7,1343.4 789.2,1342.3 790.7,1341.0 792.2,1339.5 793.7,1337.9 795.2,1336.2 796.7,1334.6 798.2,1333.0 799.7,1331.4 801.2,1330.0 802.7,1328.8 804.2,1327.8 805.7,1327.0 807.2,1326.5 808.7,1326.3 810.2,1326.4 811.7,1326.7 813.2,1327.4 814.7,1328.2 816.2,1329.4 817.7,1330.7 819.2,1332.1 820.7,1333.7 822.2,1335.3 823.7,1337.0 825.2,1338.6 826.7,1340.2 828.2,1341.6 829.7,1342.8 831.2,1343.9 832.7,1344.7" fill="none" stroke="#404040" stroke-width="4.8" stroke-linejoin="round"/>
<polyline points="511.7,1329.9 513.2,1331.2 514.7,1332.7 516.2,1334.4 517.7,1336.0 519.2,1337.7 520.7,1339.3 522.2,1340.8 523.7,1342.1 525.2,1343.3 526.7,1344.2 528.2,1344.9 529.7,1345.4 531.2,1345.5 532.7,1345.4 534.2,1344.9 535.7,1344.2 537.2,1343.3 538.7,1342.1 540.2,1340.8 541.7,1339.3 543.2,1337.7 544.7,1336.0 546.2,1334.4 547.7,1332.7 549.2,1331.2 550.7,1329.9 552.2,1328.7 553.7,1327.7 555.2,1326.9 556.7,1326.5 558.2,1326.3 559.7,1326.4 561.2,1326.8 562.7,1327.5 564.2,1328.4 565.7,1329.5 567.2,1330.8 568.7,1332.3 570.2,1333.9 571.7,1335.6 573.2,1337.2 574.7,1338.8 576.2,1340.4 577.7,1341.8 579.2,1343.0 580.7,1344.0 582.2,1344.8 583.7,1345.3 585.2,1345.5 586.7,1345.4 588.2,1345.1 589.7,1344.4 591.2,1343.6 592.7,1342.4 594.2,1341.1 595.7,1339.7 597.2,1338.1 598.7,1336.5 600.2,1334.8 601.7,1333.2 603.2,1331.6 604.7,1330.2 606.2,1329.0 607.7,1327.9 609.2,1327.1 610.7,1326.6 612.2,1326.3 613.7,1326.4 615.2,1326.7 616.7,1327.3 618.2,1328.1 619.7,1329.2 621.2,1330.5 622.7,1331.9 624.2,1333.5 625.7,1335.1 627.2,1336.8 628.7,1338.4 630.2,1340.0 631.7,1341.4 633.2,1342.7 634.7,1343.8 636.2,1344.6 637.7,1345.2 639.2,1345.5 640.7,1345.5 642.2,1345.2 643.7,1344.6 645.2,1343.8 646.7,1342.8 648.2,1341.5 649.7,1340.1 651.2,1338.5 652.7,1336.9 654.2,1335.2 655.7,1333.6 657.2,1332.0 658.7,1330.6 660.2,1329.3 661.7,1328.2 663.2,1327.3 664.7,1326.7 666.2,1326.4 667.7,1326.3 669.2,1326.6 670.7,1327.1 672.2,1327.9 673.7,1328.9 675.2,1330.1 676.7,1331.5 678.2,1333.1 679.7,1334.7 681.2,1336.3 682.7,1338.0 684.2,1339.6 685.7,1341.0 687.2,1342.4 688.7,1343.5 690.2,1344.4 691.7,1345.0 693.2,1345.4 694.7,1345.5 696.2,1345.3 697.7,1344.8 699.2,1344.1 700.7,1343.1 702.2,1341.9 703.7,1340.5 705.2,1339.0 706.7,1337.3 708.2,1335.7 709.7,1334.0 711.2,1332.4 712.7,1330.9 714.2,1329.6 715.7,1328.4 717.2,1327.5 718.7,1326.8 720.2,1326.4 721.7,1326.3 723.2,1326.5 724.7,1326.9 726.2,1327.6 727.7,1328.6 729.2,1329.8 730.7,1331.1 732.2,1332.6 733.7,1334.2 735.2,1335.9 736.7,1337.6 738.2,1339.2 739.7,1340.7 741.2,1342.0 742.7,1343.2 744.2,1344.2 745.7,1344.9 747.2,1345.3 748.7,1345.5 750.2,1345.4 751.7,1345.0 753.2,1344.3 754.7,1343.4 756.2,1342.2 757.7,1340.9 759.2,1339.4 760.7,1337.8 762.2,1336.1 763.7,1334.5 765.2,1332.8 766.7,1331.3 768.2,1329.9 769.7,1328.7 771.2,1327.7 772.7,1327.0 774.2,1326.5 775.7,1326.3 777.2,1326.4 778.7,1326.8 780.2,1327.4 781.7,1328.3 783.2,1329.4 784.7,1330.8 786.2,1332.2 787.7,1333.8 789.2,1335.5 790.7,1337.1 792.2,1338.7 793.7,1340.3 795.2,1341.7 796.7,1342.9 798.2,1343.9 799.7,1344.7 801.2,1345.2 802.7,1345.5 804.2,1345.4 805.7,1345.1 807.2,1344.5 808.7,1343.6 810.2,1342.5 811.7,1341.2 813.2,1339.8 814.7,1338.2 816.2,1336.6 817.7,1334.9 819.2,1333.3 820.7,1331.7 822.2,1330.3 823.7,1329.0 825.2,1328.0 826.7,1327.2 828.2,1326.6 829.7,1326.3 831.2,1326.3 832.7,1326.6" fill="none" stroke="#161616" stroke-width="4.8" stroke-linejoin="round"/>
<polyline points="902.8,1345.7 904.3,1346.0 905.8,1346.1 907.3,1345.8 908.8,1345.2 910.3,1344.4 911.8,1343.2 913.3,1341.9 914.8,1340.3 916.3,1338.6 917.8,1336.9 919.3,1335.1 920.8,1333.4 922.3,1331.7 923.8,1330.3 925.3,1329.0 926.8,1327.9 928.3,1327.1 929.8,1326.7 931.3,1326.5 932.8,1326.7 934.3,1327.1 935.8,1327.9 937.3,1329.0 938.8,1330.3 940.3,1331.7 941.8,1333.4 943.3,1335.1 944.8,1336.9 946.3,1338.6 947.8,1340.3 949.3,1341.9 950.8,1343.2 952.3,1344.4 953.8,1345.2 955.3,1345.8 956.8,1346.1 958.3,1346.0 959.8,1345.7 961.3,1345.0 962.8,1344.0 964.3,1342.8 965.8,1341.4 967.3,1339.8 968.8,1338.1 970.3,1336.3 971.8,1334.5 973.3,1332.8 974.8,1331.2 976.3,1329.8 977.8,1328.6 979.3,1327.6 980.8,1326.9 982.3,1326.6 983.8,1326.5 985.3,1326.8 986.8,1327.4 988.3,1328.2 989.8,1329.4 991.3,1330.7 992.8,1332.3 994.3,1334.0 995.8,1335.7 997.3,1337.5 998.8,1339.2 1000.3,1340.9 1001.8,1342.3 1003.3,1343.6 1004.8,1344.7 1006.3,1345.5 1007.8,1345.9 1009.3,1346.1 1010.8,1345.9 1012.3,1345.5 1013.8,1344.7 1015.3,1343.6 1016.8,1342.3 1018.3,1340.9 1019.8,1339.2 1021.3,1337.5 1022.8,1335.7 1024.3,1334.0 1025.8,1332.3 1027.3,1330.7 1028.8,1329.4 1030.3,1328.2 1031.8,1327.4 1033.3,1326.8 1034.8,1326.5 1036.3,1326.6 1037.8,1326.9 1039.3,1327.6 1040.8,1328.6 1042.3,1329.8 1043.8,1331.2 1045.3,1332.8 1046.8,1334.5 1048.3,1336.3 1049.8,1338.1 1051.3,1339.8 1052.8,1341.4 1054.3,1342.8 1055.8,1344.0 1057.3,1345.0 1058.8,1345.7 1060.3,1346.0 1061.8,1346.1 1063.3,1345.8 1064.8,1345.2 1066.3,1344.4 1067.8,1343.2 1069.3,1341.9 1070.8,1340.3 1072.3,1338.6 1073.8,1336.9 1075.3,1335.1 1076.8,1333.4 1078.3,1331.7 1079.8,1330.3 1081.3,1329.0 1082.8,1327.9 1084.3,1327.1 1085.8,1326.7 1087.3,1326.5 1088.8,1326.7 1090.3,1327.1 1091.8,1327.9 1093.3,1329.0 1094.8,1330.3 1096.3,1331.7 1097.8,1333.4 1099.3,1335.1 1100.8,1336.9 1102.3,1338.6 1103.8,1340.3 1105.3,1341.9 1106.8,1343.2 1108.3,1344.4 1109.8,1345.2 1111.3,1345.8 1112.8,1346.1 1114.3,1346.0 1115.8,1345.7 1117.3,1345.0 1118.8,1344.0 1120.3,1342.8 1121.8,1341.4 1123.3,1339.8 1124.8,1338.1 1126.3,1336.3 1127.8,1334.5 1129.3,1332.8 1130.8,1331.2 1132.3,1329.8 1133.8,1328.6 1135.3,1327.6 1136.8,1326.9 1138.3,1326.6 1139.8,1326.5 1141.3,1326.8 1142.8,1327.4 1144.3,1328.2 1145.8,1329.4 1147.3,1330.7 1148.8,1332.3 1150.3,1334.0 1151.8,1335.7 1153.3,1337.5 1154.8,1339.2 1156.3,1340.9 1157.8,1342.3 1159.3,1343.6 1160.8,1344.7 1162.3,1345.5 1163.8,1345.9 1165.3,1346.1 1166.8,1345.9 1168.3,1345.5 1169.8,1344.7 1171.3,1343.6 1172.8,1342.3 1174.3,1340.9 1175.8,1339.2 1177.3,1337.5 1178.8,1335.7 1180.3,1334.0 1181.8,1332.3 1183.3,1330.7 1184.8,1329.4 1186.3,1328.2 1187.8,1327.4 1189.3,1326.8 1190.8,1326.5 1192.3,1326.6 1193.8,1326.9 1195.3,1327.6 1196.8,1328.6 1198.3,1329.8 1199.8,1331.2 1201.3,1332.8 1202.8,1334.5 1204.3,1336.3 1205.8,1338.1 1207.3,1339.8 1208.8,1341.4 1210.3,1342.8 1211.8,1344.0 1213.3,1345.0 1214.8,1345.7 1216.3,1346.0 1217.8,1346.1 1219.3,1345.8 1220.8,1345.2 1222.3,1344.4 1223.8,1343.2 1225.3,1341.9 1226.8,1340.3 1228.3,1338.6 1229.8,1336.9 1231.3,1335.1 1232.8,1333.4 1234.3,1331.7 1235.8,1330.3 1237.3,1329.0 1238.8,1327.9 1240.3,1327.1 1241.8,1326.7 1243.3,1326.5 1244.8,1326.7 1246.3,1327.1 1247.8,1327.9 1249.3,1329.0 1250.8,1330.3 1252.3,1331.7 1253.8,1333.4 1255.3,1335.1 1256.8,1336.9 1258.3,1338.6 1259.8,1340.3 1261.3,1341.9 1262.8,1343.2 1264.3,1344.4" fill="none" stroke="#c41818" stroke-width="4.8" stroke-linejoin="round"/>
<polyline points="902.8,1328.6 904.3,1329.8 905.8,1331.2 907.3,1332.8 908.8,1334.5 910.3,1336.3 911.8,1338.1 913.3,1339.8 914.8,1341.4 916.3,1342.8 917.8,1344.0 919.3,1345.0 920.8,1345.7 922.3,1346.0 923.8,1346.1 925.3,1345.8 926.8,1345.2 928.3,1344.4 929.8,1343.2 931.3,1341.9 932.8,1340.3 934.3,1338.6 935.8,1336.9 937.3,1335.1 938.8,1333.4 940.3,1331.7 941.8,1330.3 943.3,1329.0 944.8,1327.9 946.3,1327.1 947.8,1326.7 949.3,1326.5 950.8,1326.7 952.3,1327.1 953.8,1327.9 955.3,1329.0 956.8,1330.3 958.3,1331.7 959.8,1333.4 961.3,1335.1 962.8,1336.9 964.3,1338.6 965.8,1340.3 967.3,1341.9 968.8,1343.2 970.3,1344.4 971.8,1345.2 973.3,1345.8 974.8,1346.1 976.3,1346.0 977.8,1345.7 979.3,1345.0 980.8,1344.0 982.3,1342.8 983.8,1341.4 985.3,1339.8 986.8,1338.1 988.3,1336.3 989.8,1334.5 991.3,1332.8 992.8,1331.2 994.3,1329.8 995.8,1328.6 997.3,1327.6 998.8,1326.9 1000.3,1326.6 1001.8,1326.5 1003.3,1326.8 1004.8,1327.4 1006.3,1328.2 1007.8,1329.4 1009.3,1330.7 1010.8,1332.3 1012.3,1334.0 1013.8,1335.7 1015.3,1337.5 1016.8,1339.2 1018.3,1340.9 1019.8,1342.3 1021.3,1343.6 1022.8,1344.7 1024.3,1345.5 1025.8,1345.9 1027.3,1346.1 1028.8,1345.9 1030.3,1345.5 1031.8,1344.7 1033.3,1343.6 1034.8,1342.3 1036.3,1340.9 1037.8,1339.2 1039.3,1337.5 1040.8,1335.7 1042.3,1334.0 1043.8,1332.3 1045.3,1330.7 1046.8,1329.4 1048.3,1328.2 1049.8,1327.4 1051.3,1326.8 1052.8,1326.5 1054.3,1326.6 1055.8,1326.9 1057.3,1327.6 1058.8,1328.6 1060.3,1329.8 1061.8,1331.2 1063.3,1332.8 1064.8,1334.5 1066.3,1336.3 1067.8,1338.1 1069.3,1339.8 1070.8,1341.4 1072.3,1342.8 1073.8,1344.0 1075.3,1345.0 1076.8,1345.7 1078.3,1346.0 1079.8,1346.1 1081.3,1345.8 1082.8,1345.2 1084.3,1344.4 1085.8,1343.2 1087.3,1341.9 1088.8,1340.3 1090.3,1338.6 1091.8,1336.9 1093.3,1335.1 1094.8,1333.4 1096.3,1331.7 1097.8,1330.3 1099.3,1329.0 1100.8,1327.9 1102.3,1327.1 1103.8,1326.7 1105.3,1326.5 1106.8,1326.7 1108.3,1327.1 1109.8,1327.9 1111.3,1329.0 1112.8,1330.3 1114.3,1331.7 1115.8,1333.4 1117.3,1335.1 1118.8,1336.9 1120.3,1338.6 1121.8,1340.3 1123.3,1341.9 1124.8,1343.2 1126.3,1344.4 1127.8,1345.2 1129.3,1345.8 1130.8,1346.1 1132.3,1346.0 1133.8,1345.7 1135.3,1345.0 1136.8,1344.0 1138.3,1342.8 1139.8,1341.4 1141.3,1339.8 1142.8,1338.1 1144.3,1336.3 1145.8,1334.5 1147.3,1332.8 1148.8,1331.2 1150.3,1329.8 1151.8,1328.6 1153.3,1327.6 1154.8,1326.9 1156.3,1326.6 1157.8,1326.5 1159.3,1326.8 1160.8,1327.4 1162.3,1328.2 1163.8,1329.4 1165.3,1330.7 1166.8,1332.3 1168.3,1334.0 1169.8,1335.7 1171.3,1337.5 1172.8,1339.2 1174.3,1340.9 1175.8,1342.3 1177.3,1343.6 1178.8,1344.7 1180.3,1345.5 1181.8,1345.9 1183.3,1346.1 1184.8,1345.9 1186.3,1345.5 1187.8,1344.7 1189.3,1343.6 1190.8,1342.3 1192.3,1340.9 1193.8,1339.2 1195.3,1337.5 1196.8,1335.7 1198.3,1334.0 1199.8,1332.3 1201.3,1330.7 1202.8,1329.4 1204.3,1328.2 1205.8,1327.4 1207.3,1326.8 1208.8,1326.5 1210.3,1326.6 1211.8,1326.9 1213.3,1327.6 1214.8,1328.6 1216.3,1329.8 1217.8,1331.2 1219.3,1332.8 1220.8,1334.5 1222.3,1336.3 1223.8,1338.1 1225.3,1339.8 1226.8,1341.4 1228.3,1342.8 1229.8,1344.0 1231.3,1345.0 1232.8,1345.7 1234.3,1346.0 1235.8,1346.1 1237.3,1345.8 1238.8,1345.2 1240.3,1344.4 1241.8,1343.2 1243.3,1341.9 1244.8,1340.3 1246.3,1338.6 1247.8,1336.9 1249.3,1335.1 1250.8,1333.4 1252.3,1331.7 1253.8,1330.3 1255.3,1329.0 1256.8,1327.9 1258.3,1327.1 1259.8,1326.7 1261.3,1326.5 1262.8,1326.7 1264.3,1327.1" fill="none" stroke="#6a0808" stroke-width="4.8" stroke-linejoin="round"/>
<rect x="571.2" y="1251.7" width="97.3" height="49.3" rx="24.6" fill="#e8d6c8" stroke="#5a3a2a" stroke-width="2.6"/>
<rect x="553.7" y="1302.5" width="133" height="49" rx="24.5" fill="#e0f4d8" stroke="#2f6a1f" stroke-width="2.8"/>
<path d="M 740 1329 L 740 1292.7 L 824 1292.7" stroke="#8e1a1a" stroke-width="4.2" fill="none"/>
<line x1="824" y1="1280.7" x2="824" y2="1304" stroke="#8e1a1a" stroke-width="4.4"/>
<rect x="946.5" y="1303" width="127.5" height="47.5" rx="23.7" fill="#e0f4d8" stroke="#2f6a1f" stroke-width="2.8"/>
<rect x="968.7" y="1256.7" width="105.3" height="47.3" rx="23.6" fill="#f0d9b8" stroke="#8f5020" stroke-width="2.8"/>
<rect x="968.7" y="1208.7" width="105.3" height="47.3" rx="23.6" fill="#ccd4ea" stroke="#2a3a6a" stroke-width="2.8"/>
<g transform="translate(950.7,1196)"><line x1="0" y1="4" x2="0" y2="100" stroke="#404040" stroke-width="4.4"/><rect x="-16.4" y="0" width="32.8" height="10" rx="4" fill="#b33d93" stroke="#7a1d60" stroke-width="1.5"/><rect x="-16.4" y="15.5" width="32.8" height="8" rx="4" fill="#f1dcbb" stroke="#9c5522" stroke-width="1.5"/><rect x="-16.4" y="28.00" width="32.8" height="7.04" rx="3.5" fill="#56a6da" stroke="#1f5c8e" stroke-width="1.5"/><rect x="-16.4" y="35.04" width="32.8" height="7.04" rx="3.5" fill="#56a6da" stroke="#1f5c8e" stroke-width="1.5"/><rect x="-16.4" y="42.08" width="32.8" height="7.04" rx="3.5" fill="#56a6da" stroke="#1f5c8e" stroke-width="1.5"/><rect x="-16.4" y="49.12" width="32.8" height="7.04" rx="3.5" fill="#56a6da" stroke="#1f5c8e" stroke-width="1.5"/><rect x="-16.4" y="56.16" width="32.8" height="7.04" rx="3.5" fill="#56a6da" stroke="#1f5c8e" stroke-width="1.5"/><rect x="-16.4" y="63.20" width="32.8" height="7.04" rx="3.5" fill="#56a6da" stroke="#1f5c8e" stroke-width="1.5"/><rect x="-16.4" y="70.24" width="32.8" height="7.04" rx="3.5" fill="#56a6da" stroke="#1f5c8e" stroke-width="1.5"/><rect x="-16.4" y="83" width="32.8" height="7.8" rx="4" fill="#f1dcbb" stroke="#9c5522" stroke-width="1.5"/><rect x="-16.8" y="95.4" width="33.6" height="21" rx="6.5" fill="#9063c1" stroke="#3f2a6a" stroke-width="1.6"/></g>
<path d="M 1108 1327 L 1108 1295 L 1150 1295" stroke="#1a1a1a" stroke-width="4.2" fill="none"/>
<path d="M 1166.0 1295.0 L 1147.5 1304.2 L 1147.5 1285.8 Z" fill="#1a1a1a"/>
<circle cx="150.2" cy="990.8" r="8.5" fill="#d4d8ee" stroke="#5d8cc4" stroke-width="2.2"/>
<circle cx="87.7" cy="1062.9" r="8.5" fill="#d4d8ee" stroke="#5d8cc4" stroke-width="2.2"/>
<circle cx="53.3" cy="1118.3" r="8.3" fill="#d4d8ee" stroke="#5d8cc4" stroke-width="2.2"/>
<circle cx="251" cy="1124.2" r="8" fill="#d4d8ee" stroke="#5d8cc4" stroke-width="2.2"/>
<circle cx="121.3" cy="1239.3" r="10" fill="#d4d8ee" stroke="#5d8cc4" stroke-width="2.2"/>
<path d="M 53.6 1095.3 L 54.2 1095.3 L 54.9 1095.3 L 55.7 1095.4 L 56.7 1095.5 L 57.8 1095.6 L 59.0 1095.8 L 60.2 1095.9 L 61.6 1096.1 L 63.0 1096.2 L 64.4 1096.4 L 66.0 1096.6 L 67.5 1096.7 L 69.1 1096.8 L 70.7 1097.0 L 72.4 1097.1 L 74.0 1097.1 L 75.7 1097.2 L 77.3 1097.2 L 79.0 1097.1 L 80.7 1097.0 L 82.3 1096.9 L 83.9 1096.7 L 85.5 1096.4 L 87.1 1096.1 L 88.6 1095.6 L 90.0 1095.2 L 91.4 1094.7 L 92.9 1094.1 L 94.3 1093.6 L 95.7 1092.9 L 97.2 1092.3 L 98.6 1091.6 L 100.0 1090.9 L 101.4 1090.1 L 102.8 1089.3 L 104.2 1088.6 L 105.5 1087.7 L 106.9 1086.9 L 108.2 1086.1 L 109.4 1085.2 L 110.7 1084.3 L 111.9 1083.4 L 113.0 1082.6 L 114.2 1081.7 L 115.3 1080.8 L 116.3 1079.9 L 117.3 1079.0 L 118.3 1078.0 L 119.2 1077.0 L 120.1 1076.0 L 120.9 1075.0 L 121.7 1073.9 L 122.4 1072.8 L 123.1 1071.7 L 123.7 1070.5 L 124.3 1069.4 L 124.8 1068.3 L 125.3 1067.1 L 125.7 1066.0 L 126.1 1064.9 L 126.5 1063.8 L 126.9 1062.7 L 127.2 1061.6 L 127.5 1060.5 L 127.8 1059.4 L 128.0 1058.4 L 128.3 1057.4 L 128.5 1056.4 L 128.7 1055.5 L 128.9 1054.5 L 129.0 1053.7 L 129.2 1052.8 L 129.4 1051.7 L 129.5 1050.6 L 129.6 1049.4 L 129.6 1048.3 L 129.6 1047.3 L 129.5 1046.2 L 129.5 1045.2 L 129.4 1044.2 L 129.2 1043.2 L 129.1 1042.3 L 128.9 1041.3 L 128.8 1040.5 L 128.6 1039.6 L 128.4 1038.8 L 128.2 1038.1 L 128.1 1037.3 L 127.9 1036.7 L 127.8 1036.1 L 127.6 1035.5 L 127.5 1035.0 L 127.5 1034.6 L 127.4 1034.3 L 127.4 1034.2 L 127.4 1034.0 L 126.7 1032.0 L 125.5 1030.3 L 123.9 1029.0 L 122.0 1028.1 L 120.0 1027.7 L 117.9 1027.9 L 115.9 1028.6 L 114.2 1029.8 L 112.9 1031.4 L 112.0 1033.3 L 111.6 1035.3 L 111.8 1037.4 L 111.9 1037.9 L 112.1 1038.6 L 112.4 1039.2 L 112.6 1039.8 L 112.8 1040.3 L 113.1 1040.9 L 113.3 1041.5 L 113.6 1042.1 L 113.8 1042.6 L 114.1 1043.2 L 114.3 1043.8 L 114.6 1044.4 L 114.8 1045.0 L 115.0 1045.6 L 115.2 1046.2 L 115.4 1046.8 L 115.6 1047.4 L 115.7 1048.0 L 115.9 1048.6 L 116.0 1049.1 L 116.1 1049.7 L 116.1 1050.2 L 116.2 1050.7 L 116.2 1051.2 L 116.1 1052.0 L 116.1 1052.8 L 116.0 1053.7 L 116.0 1054.5 L 115.9 1055.4 L 115.8 1056.3 L 115.7 1057.2 L 115.6 1058.1 L 115.5 1058.9 L 115.4 1059.8 L 115.2 1060.7 L 115.0 1061.6 L 114.8 1062.5 L 114.6 1063.3 L 114.3 1064.2 L 114.1 1065.0 L 113.8 1065.9 L 113.4 1066.7 L 113.1 1067.4 L 112.7 1068.2 L 112.2 1068.9 L 111.8 1069.6 L 111.3 1070.3 L 110.7 1071.0 L 110.1 1071.7 L 109.4 1072.4 L 108.6 1073.2 L 107.7 1073.9 L 106.8 1074.7 L 105.8 1075.5 L 104.8 1076.2 L 103.7 1077.0 L 102.6 1077.7 L 101.5 1078.5 L 100.3 1079.2 L 99.1 1079.9 L 97.9 1080.6 L 96.7 1081.3 L 95.5 1081.9 L 94.2 1082.5 L 93.0 1083.0 L 91.7 1083.6 L 90.5 1084.0 L 89.3 1084.5 L 88.1 1084.9 L 86.9 1085.2 L 85.8 1085.5 L 84.7 1085.7 L 83.7 1085.9 L 82.6 1086.0 L 81.4 1086.1 L 80.2 1086.2 L 78.9 1086.1 L 77.6 1086.1 L 76.2 1086.0 L 74.8 1085.9 L 73.3 1085.7 L 71.9 1085.5 L 70.5 1085.3 L 69.0 1085.0 L 67.6 1084.8 L 66.2 1084.5 L 64.8 1084.3 L 63.5 1084.0 L 62.2 1083.7 L 61.0 1083.5 L 59.8 1083.2 L 58.7 1083.0 L 57.6 1082.8 L 56.6 1082.6 L 55.6 1082.4 L 54.8 1082.3 L 53.1 1082.4 L 51.5 1082.9 L 50.0 1083.8 L 48.9 1085.1 L 48.1 1086.6 L 47.7 1088.2 L 47.8 1089.9 L 48.3 1091.5 L 49.2 1093.0 L 50.5 1094.1 L 52.0 1094.9 Z" fill="#d4d8ee" stroke="#5d8cc4" stroke-width="2.2" stroke-linejoin="round"/>
<path d="M 82.0 1125.6 L 82.6 1125.4 L 83.1 1125.2 L 83.8 1125.0 L 84.6 1124.7 L 85.5 1124.4 L 86.4 1124.1 L 87.5 1123.8 L 88.6 1123.4 L 89.7 1123.1 L 90.9 1122.7 L 92.1 1122.3 L 93.4 1121.8 L 94.7 1121.4 L 96.0 1120.9 L 97.4 1120.4 L 98.7 1119.9 L 100.1 1119.3 L 101.5 1118.7 L 102.9 1118.1 L 104.2 1117.5 L 105.6 1116.8 L 106.9 1116.1 L 108.3 1115.4 L 109.5 1114.6 L 110.7 1113.8 L 111.9 1113.1 L 113.0 1112.3 L 114.2 1111.5 L 115.4 1110.7 L 116.7 1109.9 L 117.9 1109.0 L 119.1 1108.1 L 120.3 1107.2 L 121.6 1106.3 L 122.8 1105.3 L 124.0 1104.3 L 125.3 1103.3 L 126.5 1102.3 L 127.7 1101.2 L 128.9 1100.1 L 130.0 1099.0 L 131.2 1097.8 L 132.4 1096.7 L 133.5 1095.5 L 134.6 1094.2 L 135.6 1093.0 L 136.7 1091.7 L 137.7 1090.4 L 138.7 1089.1 L 139.6 1087.7 L 140.6 1086.3 L 141.5 1084.8 L 142.4 1083.4 L 143.3 1081.9 L 144.2 1080.3 L 145.0 1078.8 L 145.9 1077.3 L 146.7 1075.7 L 147.5 1074.1 L 148.4 1072.5 L 149.2 1070.9 L 149.9 1069.3 L 150.7 1067.8 L 151.4 1066.2 L 152.1 1064.6 L 152.8 1063.0 L 153.4 1061.4 L 154.1 1059.9 L 154.7 1058.3 L 155.2 1056.8 L 155.7 1055.3 L 156.3 1053.8 L 156.7 1052.2 L 157.2 1050.5 L 157.5 1048.9 L 157.9 1047.2 L 158.2 1045.5 L 158.4 1043.9 L 158.6 1042.2 L 158.8 1040.6 L 158.9 1039.0 L 159.0 1037.4 L 159.1 1035.8 L 159.2 1034.3 L 159.3 1032.8 L 159.4 1031.4 L 159.4 1030.0 L 159.4 1028.7 L 159.5 1027.4 L 159.5 1026.2 L 159.5 1025.1 L 159.6 1024.2 L 159.6 1023.3 L 159.7 1022.6 L 159.7 1022.0 L 159.8 1021.4 L 159.5 1019.0 L 158.6 1016.7 L 157.1 1014.7 L 155.2 1013.1 L 152.9 1012.2 L 150.4 1011.8 L 148.0 1012.1 L 145.7 1013.0 L 143.7 1014.5 L 142.1 1016.4 L 141.2 1018.7 L 140.8 1021.2 L 140.9 1022.0 L 140.9 1023.0 L 141.0 1024.0 L 141.2 1025.0 L 141.3 1026.1 L 141.5 1027.2 L 141.6 1028.4 L 141.8 1029.6 L 142.0 1030.8 L 142.1 1032.1 L 142.3 1033.4 L 142.4 1034.7 L 142.6 1036.0 L 142.7 1037.4 L 142.8 1038.7 L 142.8 1040.1 L 142.9 1041.4 L 142.9 1042.8 L 142.9 1044.1 L 142.9 1045.4 L 142.8 1046.6 L 142.7 1047.9 L 142.5 1049.0 L 142.3 1050.2 L 142.1 1051.4 L 141.8 1052.8 L 141.5 1054.1 L 141.1 1055.5 L 140.7 1057.0 L 140.3 1058.4 L 139.8 1059.9 L 139.3 1061.3 L 138.8 1062.8 L 138.2 1064.3 L 137.6 1065.8 L 137.0 1067.3 L 136.4 1068.8 L 135.8 1070.2 L 135.1 1071.7 L 134.4 1073.1 L 133.6 1074.5 L 132.9 1075.9 L 132.1 1077.2 L 131.3 1078.5 L 130.5 1079.7 L 129.7 1080.9 L 128.9 1082.1 L 128.1 1083.2 L 127.3 1084.3 L 126.4 1085.3 L 125.6 1086.3 L 124.6 1087.3 L 123.7 1088.3 L 122.7 1089.3 L 121.7 1090.3 L 120.7 1091.2 L 119.7 1092.2 L 118.6 1093.1 L 117.5 1094.0 L 116.4 1094.9 L 115.3 1095.7 L 114.2 1096.6 L 113.1 1097.4 L 112.0 1098.2 L 110.8 1099.0 L 109.7 1099.8 L 108.6 1100.5 L 107.5 1101.3 L 106.3 1102.0 L 105.2 1102.7 L 104.1 1103.4 L 103.1 1104.0 L 102.1 1104.6 L 101.1 1105.1 L 100.0 1105.7 L 98.9 1106.2 L 97.8 1106.7 L 96.6 1107.2 L 95.4 1107.7 L 94.2 1108.1 L 93.0 1108.6 L 91.8 1109.0 L 90.6 1109.4 L 89.4 1109.8 L 88.2 1110.2 L 87.0 1110.5 L 85.9 1110.9 L 84.8 1111.2 L 83.7 1111.5 L 82.7 1111.8 L 81.7 1112.1 L 80.8 1112.4 L 79.9 1112.6 L 79.0 1112.9 L 78.2 1113.2 L 77.6 1113.4 L 76.1 1114.2 L 74.8 1115.3 L 73.9 1116.8 L 73.4 1118.4 L 73.3 1120.1 L 73.7 1121.7 L 74.5 1123.2 L 75.6 1124.5 L 77.1 1125.4 L 78.7 1125.9 L 80.4 1126.0 Z" fill="#d4d8ee" stroke="#5d8cc4" stroke-width="2.2" stroke-linejoin="round"/>
<path d="M 55.8 1162.4 L 56.8 1162.0 L 57.9 1161.6 L 59.3 1161.2 L 60.8 1160.7 L 62.4 1160.2 L 64.2 1159.6 L 66.2 1159.0 L 68.2 1158.4 L 70.4 1157.7 L 72.6 1157.0 L 74.9 1156.3 L 77.2 1155.5 L 79.6 1154.7 L 82.0 1153.9 L 84.5 1153.0 L 86.9 1152.1 L 89.4 1151.2 L 91.8 1150.2 L 94.2 1149.2 L 96.5 1148.1 L 98.9 1147.0 L 101.1 1145.9 L 103.3 1144.7 L 105.4 1143.5 L 107.3 1142.3 L 109.2 1141.1 L 111.1 1139.8 L 113.0 1138.5 L 114.9 1137.2 L 116.7 1135.8 L 118.6 1134.5 L 120.4 1133.0 L 122.2 1131.6 L 124.0 1130.1 L 125.8 1128.6 L 127.5 1127.1 L 129.3 1125.5 L 131.0 1123.9 L 132.7 1122.3 L 134.4 1120.6 L 136.1 1119.0 L 137.7 1117.3 L 139.4 1115.6 L 141.0 1113.8 L 142.6 1112.1 L 144.2 1110.3 L 145.8 1108.5 L 147.3 1106.6 L 148.9 1104.7 L 150.4 1102.8 L 151.9 1100.8 L 153.4 1098.7 L 154.9 1096.7 L 156.4 1094.5 L 157.9 1092.4 L 159.3 1090.2 L 160.8 1088.0 L 162.2 1085.8 L 163.6 1083.6 L 165.0 1081.3 L 166.4 1079.1 L 167.7 1076.8 L 169.0 1074.5 L 170.3 1072.3 L 171.6 1070.0 L 172.8 1067.7 L 174.0 1065.5 L 175.2 1063.3 L 176.3 1061.1 L 177.5 1058.9 L 178.5 1056.7 L 179.6 1054.6 L 180.6 1052.3 L 181.6 1050.1 L 182.6 1047.7 L 183.5 1045.3 L 184.4 1042.9 L 185.3 1040.5 L 186.1 1038.1 L 186.9 1035.6 L 187.7 1033.2 L 188.4 1030.8 L 189.2 1028.4 L 189.8 1026.1 L 190.5 1023.8 L 191.1 1021.6 L 191.7 1019.4 L 192.3 1017.4 L 192.9 1015.4 L 193.4 1013.5 L 193.9 1011.8 L 194.3 1010.1 L 194.7 1008.6 L 195.1 1007.3 L 195.5 1006.2 L 195.8 1005.2 L 196.1 1003.1 L 195.8 1001.0 L 195.1 999.1 L 193.8 997.4 L 192.2 996.1 L 190.3 995.3 L 188.2 995.0 L 186.1 995.3 L 184.2 996.0 L 182.5 997.3 L 181.2 998.9 L 180.4 1000.8 L 180.1 1002.0 L 179.8 1003.4 L 179.5 1004.9 L 179.2 1006.5 L 178.8 1008.2 L 178.5 1010.0 L 178.1 1011.9 L 177.7 1013.9 L 177.3 1016.0 L 176.8 1018.1 L 176.4 1020.3 L 175.9 1022.5 L 175.4 1024.8 L 174.8 1027.1 L 174.3 1029.4 L 173.7 1031.8 L 173.1 1034.1 L 172.4 1036.4 L 171.8 1038.7 L 171.1 1041.0 L 170.4 1043.2 L 169.6 1045.3 L 168.8 1047.4 L 168.0 1049.4 L 167.2 1051.5 L 166.2 1053.6 L 165.3 1055.7 L 164.3 1057.9 L 163.3 1060.1 L 162.2 1062.3 L 161.1 1064.5 L 160.0 1066.7 L 158.8 1068.9 L 157.7 1071.1 L 156.5 1073.4 L 155.2 1075.6 L 154.0 1077.7 L 152.7 1079.9 L 151.4 1082.1 L 150.1 1084.2 L 148.7 1086.3 L 147.3 1088.3 L 145.9 1090.3 L 144.5 1092.3 L 143.1 1094.2 L 141.7 1096.0 L 140.3 1097.8 L 138.9 1099.6 L 137.4 1101.3 L 135.9 1103.0 L 134.5 1104.7 L 132.9 1106.3 L 131.4 1107.9 L 129.8 1109.5 L 128.3 1111.0 L 126.6 1112.5 L 125.0 1114.0 L 123.4 1115.5 L 121.7 1116.9 L 120.1 1118.3 L 118.4 1119.6 L 116.7 1121.0 L 115.0 1122.2 L 113.2 1123.5 L 111.5 1124.7 L 109.7 1125.9 L 108.0 1127.1 L 106.2 1128.2 L 104.4 1129.3 L 102.6 1130.3 L 100.8 1131.3 L 99.0 1132.3 L 97.3 1133.2 L 95.4 1134.0 L 93.4 1134.8 L 91.3 1135.6 L 89.2 1136.4 L 87.0 1137.2 L 84.7 1137.9 L 82.4 1138.6 L 80.1 1139.2 L 77.7 1139.9 L 75.4 1140.5 L 73.1 1141.1 L 70.8 1141.6 L 68.5 1142.1 L 66.3 1142.6 L 64.2 1143.1 L 62.1 1143.5 L 60.1 1144.0 L 58.3 1144.4 L 56.5 1144.8 L 54.8 1145.1 L 53.3 1145.5 L 51.8 1145.9 L 50.6 1146.2 L 48.6 1147.1 L 46.9 1148.6 L 45.6 1150.4 L 44.9 1152.5 L 44.7 1154.7 L 45.1 1156.9 L 46.0 1158.9 L 47.5 1160.6 L 49.3 1161.9 L 51.4 1162.6 L 53.6 1162.8 Z" fill="#d4d8ee" stroke="#5d8cc4" stroke-width="2.2" stroke-linejoin="round"/>
<path d="M 57.7 1210.7 L 59.4 1208.6 L 61.4 1206.2 L 63.7 1203.5 L 66.1 1200.5 L 68.8 1197.3 L 71.7 1193.9 L 74.7 1190.3 L 77.9 1186.5 L 81.2 1182.5 L 84.6 1178.4 L 88.2 1174.1 L 91.8 1169.8 L 95.6 1165.4 L 99.3 1160.9 L 103.2 1156.3 L 107.0 1151.8 L 110.9 1147.2 L 114.8 1142.6 L 118.7 1138.0 L 122.5 1133.5 L 126.3 1129.1 L 130.0 1124.8 L 133.6 1120.5 L 137.2 1116.4 L 140.8 1112.2 L 144.5 1107.9 L 148.3 1103.4 L 152.3 1098.8 L 156.4 1094.1 L 160.6 1089.3 L 164.9 1084.5 L 169.2 1079.7 L 173.5 1074.8 L 177.8 1070.0 L 182.1 1065.2 L 186.3 1060.5 L 190.5 1055.8 L 194.6 1051.3 L 198.6 1046.9 L 202.4 1042.6 L 206.1 1038.5 L 209.7 1034.7 L 213.0 1031.0 L 216.1 1027.6 L 219.0 1024.4 L 221.6 1021.6 L 224.0 1019.0 L 226.0 1016.8 L 227.5 1014.5 L 228.3 1011.9 L 228.5 1009.2 L 227.9 1006.5 L 226.6 1004.0 L 224.8 1002.0 L 222.5 1000.5 L 219.9 999.7 L 217.2 999.5 L 214.5 1000.1 L 212.0 1001.4 L 210.0 1003.2 L 208.1 1005.6 L 206.0 1008.3 L 203.6 1011.3 L 200.9 1014.7 L 198.1 1018.3 L 195.0 1022.2 L 191.7 1026.3 L 188.3 1030.6 L 184.7 1035.1 L 181.0 1039.8 L 177.2 1044.5 L 173.3 1049.4 L 169.3 1054.4 L 165.3 1059.4 L 161.2 1064.4 L 157.1 1069.4 L 153.0 1074.4 L 148.9 1079.4 L 144.9 1084.2 L 140.9 1089.0 L 136.9 1093.6 L 133.1 1098.1 L 129.4 1102.5 L 125.8 1106.6 L 122.3 1110.7 L 118.6 1114.9 L 114.9 1119.2 L 111.0 1123.6 L 107.1 1128.0 L 103.1 1132.5 L 99.1 1136.9 L 95.1 1141.4 L 91.1 1145.8 L 87.2 1150.3 L 83.2 1154.6 L 79.3 1158.9 L 75.5 1163.1 L 71.8 1167.2 L 68.2 1171.1 L 64.7 1175.0 L 61.4 1178.6 L 58.2 1182.1 L 55.2 1185.4 L 52.3 1188.4 L 49.7 1191.3 L 47.4 1193.9 L 45.2 1196.2 L 43.3 1198.3 L 42.0 1200.3 L 41.2 1202.7 L 41.0 1205.1 L 41.5 1207.6 L 42.6 1209.8 L 44.3 1211.7 L 46.3 1213.0 L 48.7 1213.8 L 51.1 1214.0 L 53.6 1213.5 L 55.8 1212.4 Z" fill="#d4d8ee" stroke="#5d8cc4" stroke-width="2.2" stroke-linejoin="round"/>
<path d="M 112.1 1214.0 L 112.7 1212.9 L 113.3 1211.6 L 114.0 1210.2 L 114.8 1208.7 L 115.5 1207.1 L 116.3 1205.5 L 117.2 1203.7 L 118.1 1201.8 L 119.0 1199.9 L 120.0 1197.9 L 121.0 1195.8 L 122.1 1193.8 L 123.2 1191.6 L 124.3 1189.5 L 125.4 1187.3 L 126.6 1185.2 L 127.8 1183.0 L 129.0 1180.9 L 130.2 1178.7 L 131.5 1176.7 L 132.8 1174.6 L 134.1 1172.7 L 135.3 1170.8 L 136.6 1168.9 L 138.0 1167.1 L 139.4 1165.2 L 140.9 1163.3 L 142.5 1161.4 L 144.0 1159.5 L 145.7 1157.5 L 147.3 1155.6 L 149.1 1153.6 L 150.8 1151.7 L 152.6 1149.7 L 154.4 1147.8 L 156.2 1145.8 L 158.0 1143.9 L 159.9 1142.0 L 161.7 1140.1 L 163.6 1138.2 L 165.5 1136.4 L 167.4 1134.6 L 169.2 1132.8 L 171.1 1131.0 L 172.9 1129.3 L 174.7 1127.6 L 176.5 1125.9 L 178.2 1124.3 L 179.9 1122.7 L 181.6 1121.2 L 183.4 1119.6 L 185.1 1118.1 L 186.8 1116.7 L 188.5 1115.2 L 190.2 1113.8 L 192.0 1112.4 L 193.7 1111.0 L 195.4 1109.7 L 197.1 1108.3 L 198.8 1107.0 L 200.5 1105.7 L 202.2 1104.4 L 203.9 1103.2 L 205.6 1101.9 L 207.2 1100.7 L 208.9 1099.5 L 210.6 1098.3 L 212.2 1097.1 L 213.9 1096.0 L 215.5 1094.8 L 217.2 1093.7 L 218.8 1092.6 L 220.4 1091.5 L 222.0 1090.4 L 223.7 1089.4 L 225.4 1088.3 L 227.2 1087.2 L 229.0 1086.1 L 230.7 1085.1 L 232.5 1084.0 L 234.3 1083.0 L 236.0 1082.0 L 237.8 1081.0 L 239.5 1080.0 L 241.2 1079.1 L 242.8 1078.2 L 244.4 1077.3 L 246.0 1076.5 L 247.5 1075.7 L 248.9 1074.9 L 250.2 1074.2 L 251.5 1073.5 L 252.7 1072.8 L 253.8 1072.2 L 254.8 1071.6 L 255.6 1071.1 L 257.3 1069.8 L 258.5 1068.2 L 259.3 1066.2 L 259.5 1064.1 L 259.2 1062.1 L 258.3 1060.2 L 257.0 1058.5 L 255.4 1057.3 L 253.4 1056.5 L 251.3 1056.3 L 249.3 1056.6 L 247.4 1057.5 L 246.6 1058.0 L 245.7 1058.5 L 244.7 1059.1 L 243.6 1059.8 L 242.4 1060.5 L 241.1 1061.3 L 239.7 1062.2 L 238.2 1063.0 L 236.7 1064.0 L 235.1 1064.9 L 233.5 1065.9 L 231.8 1067.0 L 230.1 1068.0 L 228.3 1069.1 L 226.6 1070.2 L 224.8 1071.4 L 223.0 1072.5 L 221.1 1073.7 L 219.3 1074.9 L 217.5 1076.1 L 215.8 1077.3 L 214.0 1078.6 L 212.3 1079.8 L 210.6 1081.0 L 209.0 1082.2 L 207.3 1083.4 L 205.7 1084.6 L 204.0 1085.9 L 202.4 1087.2 L 200.7 1088.4 L 199.0 1089.7 L 197.3 1091.0 L 195.6 1092.4 L 193.9 1093.7 L 192.2 1095.1 L 190.5 1096.5 L 188.7 1097.9 L 187.0 1099.3 L 185.3 1100.7 L 183.5 1102.2 L 181.8 1103.7 L 180.0 1105.2 L 178.2 1106.7 L 176.5 1108.3 L 174.7 1109.9 L 172.9 1111.5 L 171.2 1113.1 L 169.4 1114.7 L 167.6 1116.4 L 165.8 1118.1 L 164.0 1119.8 L 162.1 1121.6 L 160.2 1123.4 L 158.3 1125.2 L 156.4 1127.1 L 154.5 1129.0 L 152.5 1130.9 L 150.6 1132.8 L 148.7 1134.7 L 146.7 1136.6 L 144.8 1138.6 L 142.9 1140.5 L 141.0 1142.5 L 139.1 1144.5 L 137.2 1146.4 L 135.4 1148.4 L 133.6 1150.4 L 131.8 1152.3 L 130.1 1154.3 L 128.4 1156.2 L 126.8 1158.1 L 125.2 1160.1 L 123.6 1162.1 L 122.0 1164.1 L 120.5 1166.2 L 118.9 1168.4 L 117.4 1170.6 L 116.0 1172.8 L 114.5 1175.0 L 113.1 1177.2 L 111.7 1179.4 L 110.4 1181.6 L 109.0 1183.7 L 107.8 1185.9 L 106.5 1188.0 L 105.3 1190.0 L 104.2 1192.0 L 103.1 1193.9 L 102.0 1195.7 L 101.1 1197.4 L 100.1 1199.0 L 99.3 1200.5 L 98.5 1201.8 L 97.7 1203.0 L 97.1 1204.1 L 96.5 1205.0 L 95.6 1207.2 L 95.3 1209.5 L 95.6 1211.8 L 96.5 1214.0 L 97.9 1215.9 L 99.8 1217.3 L 102.0 1218.2 L 104.3 1218.5 L 106.6 1218.2 L 108.8 1217.3 L 110.7 1215.9 Z" fill="#d4d8ee" stroke="#5d8cc4" stroke-width="2.2" stroke-linejoin="round"/>
<path d="M 158.9 1199.6 L 159.2 1198.7 L 159.4 1197.5 L 159.7 1196.4 L 159.9 1195.1 L 160.2 1193.8 L 160.4 1192.4 L 160.7 1191.0 L 161.0 1189.5 L 161.3 1187.9 L 161.6 1186.3 L 161.9 1184.7 L 162.3 1183.0 L 162.7 1181.3 L 163.1 1179.6 L 163.5 1177.9 L 164.0 1176.1 L 164.5 1174.4 L 165.0 1172.7 L 165.6 1171.1 L 166.1 1169.4 L 166.8 1167.8 L 167.4 1166.3 L 168.1 1164.8 L 168.8 1163.4 L 169.6 1161.9 L 170.5 1160.4 L 171.4 1158.8 L 172.4 1157.2 L 173.4 1155.6 L 174.4 1154.0 L 175.5 1152.4 L 176.6 1150.7 L 177.7 1149.1 L 178.9 1147.5 L 180.2 1145.9 L 181.4 1144.3 L 182.7 1142.8 L 184.0 1141.2 L 185.3 1139.7 L 186.7 1138.2 L 188.0 1136.8 L 189.4 1135.4 L 190.8 1134.0 L 192.2 1132.7 L 193.6 1131.5 L 195.0 1130.3 L 196.4 1129.2 L 197.7 1128.1 L 199.1 1127.1 L 200.6 1126.2 L 202.2 1125.3 L 203.9 1124.4 L 205.6 1123.5 L 207.4 1122.6 L 209.3 1121.8 L 211.2 1121.0 L 213.1 1120.2 L 215.1 1119.4 L 217.0 1118.7 L 219.0 1118.0 L 220.9 1117.3 L 222.8 1116.7 L 224.6 1116.1 L 226.4 1115.5 L 228.2 1114.9 L 229.9 1114.4 L 231.5 1113.9 L 233.0 1113.4 L 234.4 1112.9 L 235.7 1112.5 L 236.9 1112.0 L 238.0 1111.6 L 239.5 1110.7 L 240.8 1109.4 L 241.7 1107.8 L 242.2 1106.0 L 242.1 1104.2 L 241.6 1102.4 L 240.7 1100.9 L 239.4 1099.6 L 237.8 1098.7 L 236.0 1098.2 L 234.2 1098.3 L 232.4 1098.8 L 231.6 1099.2 L 230.7 1099.6 L 229.6 1100.1 L 228.3 1100.6 L 226.9 1101.2 L 225.4 1101.8 L 223.7 1102.4 L 222.0 1103.1 L 220.2 1103.8 L 218.3 1104.6 L 216.4 1105.4 L 214.4 1106.2 L 212.4 1107.1 L 210.3 1108.0 L 208.3 1108.9 L 206.2 1109.9 L 204.2 1110.9 L 202.1 1111.9 L 200.1 1113.0 L 198.1 1114.2 L 196.2 1115.3 L 194.4 1116.5 L 192.6 1117.8 L 190.9 1119.1 L 189.2 1120.4 L 187.7 1121.8 L 186.1 1123.2 L 184.6 1124.6 L 183.1 1126.1 L 181.5 1127.6 L 180.1 1129.2 L 178.6 1130.8 L 177.1 1132.4 L 175.7 1134.0 L 174.3 1135.7 L 172.9 1137.4 L 171.5 1139.1 L 170.2 1140.8 L 168.9 1142.5 L 167.6 1144.2 L 166.3 1145.9 L 165.1 1147.6 L 163.9 1149.2 L 162.7 1150.9 L 161.6 1152.5 L 160.5 1154.2 L 159.4 1155.8 L 158.4 1157.4 L 157.4 1159.1 L 156.4 1160.9 L 155.4 1162.7 L 154.5 1164.5 L 153.7 1166.3 L 152.9 1168.2 L 152.1 1170.1 L 151.4 1171.9 L 150.7 1173.8 L 150.0 1175.6 L 149.4 1177.4 L 148.8 1179.2 L 148.2 1181.0 L 147.6 1182.6 L 147.1 1184.3 L 146.6 1185.9 L 146.2 1187.4 L 145.7 1188.8 L 145.3 1190.1 L 144.9 1191.3 L 144.6 1192.4 L 144.2 1193.3 L 144.0 1194.1 L 143.7 1194.8 L 143.3 1196.8 L 143.5 1198.9 L 144.2 1200.9 L 145.4 1202.6 L 147.0 1203.9 L 148.9 1204.8 L 150.9 1205.2 L 153.0 1205.0 L 155.0 1204.3 L 156.7 1203.1 L 158.0 1201.5 Z" fill="#d4d8ee" stroke="#5d8cc4" stroke-width="2.2" stroke-linejoin="round"/>
<g transform="translate(49,1209) rotate(43)"><line x1="0" y1="-4" x2="0" y2="-166.7" stroke="#404040" stroke-width="3" /><rect x="-12.0" y="-8" width="24" height="8" rx="3" fill="#b33d93" stroke="#7a1d60" stroke-width="1.2"/><rect x="-12.0" y="-18" width="24" height="6" rx="3" fill="#f1dcbb" stroke="#9c5522" stroke-width="1.2"/><rect x="-13.0" y="-60.00" width="26" height="5.2" rx="2.6" fill="#56a6da" stroke="#1f5c8e" stroke-width="1.2"/><rect x="-13.0" y="-54.80" width="26" height="5.2" rx="2.6" fill="#56a6da" stroke="#1f5c8e" stroke-width="1.2"/><rect x="-13.0" y="-49.60" width="26" height="5.2" rx="2.6" fill="#56a6da" stroke="#1f5c8e" stroke-width="1.2"/><rect x="-13.0" y="-44.40" width="26" height="5.2" rx="2.6" fill="#56a6da" stroke="#1f5c8e" stroke-width="1.2"/><rect x="-13.0" y="-39.20" width="26" height="5.2" rx="2.6" fill="#56a6da" stroke="#1f5c8e" stroke-width="1.2"/><rect x="-13.0" y="-34.00" width="26" height="5.2" rx="2.6" fill="#56a6da" stroke="#1f5c8e" stroke-width="1.2"/><rect x="-13.0" y="-28.80" width="26" height="5.2" rx="2.6" fill="#56a6da" stroke="#1f5c8e" stroke-width="1.2"/><rect x="-13.0" y="-23.60" width="26" height="5.2" rx="2.6" fill="#56a6da" stroke="#1f5c8e" stroke-width="1.2"/><rect x="-12.0" y="-70" width="24" height="6" rx="3" fill="#f1dcbb" stroke="#9c5522" stroke-width="1.2"/><rect x="-12.0" y="-89" width="24" height="16" rx="5" fill="#9063c1" stroke="#3f2a6a" stroke-width="1.3"/><rect x="-10.0" y="-163.70" width="20" height="5.666666666666667" rx="2.6" fill="#3d9a3f" stroke="#1c5a1c" stroke-width="1.2"/><rect x="-10.0" y="-158.03" width="20" height="5.666666666666667" rx="2.6" fill="#3d9a3f" stroke="#1c5a1c" stroke-width="1.2"/><rect x="-10.0" y="-152.37" width="20" height="5.666666666666667" rx="2.6" fill="#3d9a3f" stroke="#1c5a1c" stroke-width="1.2"/><rect x="-13.0" y="-234.70" width="26" height="5.230769230769231" rx="2.6" fill="#b6e1df" stroke="#3aa3ad" stroke-width="1.1"/><rect x="-13.0" y="-229.47" width="26" height="5.230769230769231" rx="2.6" fill="#b6e1df" stroke="#3aa3ad" stroke-width="1.1"/><rect x="-13.0" y="-224.24" width="26" height="5.230769230769231" rx="2.6" fill="#b6e1df" stroke="#3aa3ad" stroke-width="1.1"/><rect x="-13.0" y="-219.01" width="26" height="5.230769230769231" rx="2.6" fill="#b6e1df" stroke="#3aa3ad" stroke-width="1.1"/><rect x="-13.0" y="-213.78" width="26" height="5.230769230769231" rx="2.6" fill="#b6e1df" stroke="#3aa3ad" stroke-width="1.1"/><rect x="-13.0" y="-208.55" width="26" height="5.230769230769231" rx="2.6" fill="#b6e1df" stroke="#3aa3ad" stroke-width="1.1"/><rect x="-13.0" y="-203.32" width="26" height="5.230769230769231" rx="2.6" fill="#b6e1df" stroke="#3aa3ad" stroke-width="1.1"/><rect x="-13.0" y="-198.08" width="26" height="5.230769230769231" rx="2.6" fill="#b6e1df" stroke="#3aa3ad" stroke-width="1.1"/><rect x="-13.0" y="-192.85" width="26" height="5.230769230769231" rx="2.6" fill="#b6e1df" stroke="#3aa3ad" stroke-width="1.1"/><rect x="-13.0" y="-187.62" width="26" height="5.230769230769231" rx="2.6" fill="#b6e1df" stroke="#3aa3ad" stroke-width="1.1"/><rect x="-13.0" y="-182.39" width="26" height="5.230769230769231" rx="2.6" fill="#b6e1df" stroke="#3aa3ad" stroke-width="1.1"/><rect x="-13.0" y="-177.16" width="26" height="5.230769230769231" rx="2.6" fill="#b6e1df" stroke="#3aa3ad" stroke-width="1.1"/><rect x="-13.0" y="-171.93" width="26" height="5.230769230769231" rx="2.6" fill="#b6e1df" stroke="#3aa3ad" stroke-width="1.1"/></g>
<path d="M 123.6 1137.2 L 155.5 1131.9 L 178.3 1123.7 L 177.7 1121.3 L 154.5 1128.1 Z" fill="#f08a9c"/>
<circle cx="182.2" cy="1117.8" r="6.3" fill="none" stroke="#f08a9c" stroke-width="2.4"/>
<path d="M 126.4 1115.2 L 156.9 1132.9 L 176.4 1145.0 L 177.6 1143.0 L 159.1 1129.1 Z" fill="#c8406a"/>
<circle cx="177.8" cy="1148.9" r="6.3" fill="none" stroke="#c8406a" stroke-width="2.4"/>
<linearGradient id="gg1" gradientUnits="userSpaceOnUse" x1="242" y1="1188" x2="205" y2="1165"><stop offset="0" stop-color="#8a4f1e" stop-opacity="0"/><stop offset="0.55" stop-color="#8a4f1e" stop-opacity="1"/></linearGradient>
<path d="M 242 1188 C 225 1184 212 1176 204 1166" stroke="url(#gg1)" stroke-width="3.6" fill="none"/>
<path d="M 194.1 1150.9 L 211.0 1161.4 L 196.8 1170.6 Z" fill="#8a4f1e"/>
<linearGradient id="gg2" gradientUnits="userSpaceOnUse" x1="370" y1="1259" x2="330" y2="1240"><stop offset="0" stop-color="#8a4f1e" stop-opacity="0"/><stop offset="0.55" stop-color="#8a4f1e" stop-opacity="1"/></linearGradient>
<path d="M 370 1259 C 355 1256 338 1249 326 1239" stroke="url(#gg2)" stroke-width="3.6" fill="none"/>
<path d="M 314.0 1225.5 L 332.1 1233.8 L 319.1 1244.8 Z" fill="#8a4f1e"/>
<ellipse cx="567.7" cy="1137.6" rx="20" ry="8" transform="rotate(-34 567.7 1137.6)" fill="#d4d8ee" stroke="#5d8cc4" stroke-width="2.2"/>
<path d="M 447.8 1194.5 L 448.2 1194.0 L 448.7 1193.5 L 449.2 1192.9 L 449.8 1192.3 L 450.4 1191.6 L 451.0 1190.8 L 451.7 1190.1 L 452.4 1189.2 L 453.1 1188.4 L 453.9 1187.5 L 454.7 1186.6 L 455.5 1185.7 L 456.3 1184.8 L 457.1 1183.9 L 458.0 1182.9 L 458.8 1182.0 L 459.7 1181.1 L 460.5 1180.2 L 461.3 1179.3 L 462.2 1178.5 L 463.0 1177.6 L 463.8 1176.8 L 464.5 1176.1 L 465.2 1175.4 L 465.9 1174.7 L 466.7 1174.0 L 467.5 1173.2 L 468.3 1172.5 L 469.1 1171.8 L 470.0 1171.0 L 470.8 1170.3 L 471.7 1169.5 L 472.6 1168.8 L 473.5 1168.1 L 474.3 1167.3 L 475.2 1166.6 L 476.0 1165.9 L 476.8 1165.2 L 477.7 1164.6 L 478.4 1164.0 L 479.2 1163.3 L 479.9 1162.8 L 480.6 1162.2 L 481.2 1161.7 L 481.8 1161.2 L 482.4 1160.8 L 482.9 1160.4 L 483.3 1160.0 L 484.7 1158.4 L 485.6 1156.5 L 486.0 1154.5 L 485.8 1152.4 L 485.2 1150.4 L 484.0 1148.7 L 482.4 1147.3 L 480.5 1146.4 L 478.5 1146.0 L 476.4 1146.2 L 474.4 1146.8 L 472.7 1148.0 L 472.3 1148.4 L 471.9 1148.8 L 471.4 1149.2 L 470.9 1149.7 L 470.3 1150.3 L 469.6 1150.8 L 469.0 1151.5 L 468.2 1152.1 L 467.5 1152.8 L 466.7 1153.5 L 465.9 1154.3 L 465.1 1155.0 L 464.2 1155.8 L 463.4 1156.6 L 462.5 1157.4 L 461.6 1158.2 L 460.7 1159.0 L 459.9 1159.8 L 459.0 1160.6 L 458.1 1161.4 L 457.3 1162.2 L 456.4 1163.1 L 455.6 1163.8 L 454.8 1164.6 L 454.0 1165.4 L 453.1 1166.2 L 452.3 1167.1 L 451.4 1168.0 L 450.5 1168.9 L 449.6 1169.8 L 448.7 1170.7 L 447.8 1171.6 L 446.9 1172.5 L 446.0 1173.5 L 445.1 1174.4 L 444.3 1175.3 L 443.4 1176.2 L 442.6 1177.0 L 441.7 1177.9 L 440.9 1178.7 L 440.2 1179.5 L 439.5 1180.2 L 438.8 1180.9 L 438.2 1181.5 L 437.6 1182.1 L 437.0 1182.6 L 436.6 1183.1 L 436.2 1183.5 L 435.0 1185.2 L 434.2 1187.2 L 434.0 1189.2 L 434.3 1191.3 L 435.2 1193.2 L 436.5 1194.8 L 438.2 1196.0 L 440.2 1196.8 L 442.2 1197.0 L 444.3 1196.7 L 446.2 1195.8 Z" fill="#d4d8ee" stroke="#5d8cc4" stroke-width="2.2" stroke-linejoin="round"/>
<path d="M 398.7 1279.2 L 399.1 1278.5 L 399.5 1277.8 L 400.0 1277.0 L 400.5 1276.1 L 401.1 1275.2 L 401.7 1274.2 L 402.3 1273.1 L 403.0 1272.0 L 403.6 1270.8 L 404.3 1269.6 L 405.1 1268.3 L 405.8 1267.1 L 406.5 1265.8 L 407.3 1264.5 L 408.1 1263.1 L 408.8 1261.8 L 409.6 1260.5 L 410.3 1259.2 L 411.1 1257.9 L 411.8 1256.6 L 412.5 1255.4 L 413.1 1254.2 L 413.8 1253.1 L 414.4 1252.0 L 415.0 1250.9 L 415.7 1249.8 L 416.4 1248.6 L 417.0 1247.4 L 417.7 1246.1 L 418.4 1244.9 L 419.1 1243.6 L 419.8 1242.3 L 420.5 1241.0 L 421.1 1239.7 L 421.8 1238.5 L 422.5 1237.2 L 423.1 1236.0 L 423.7 1234.7 L 424.4 1233.6 L 424.9 1232.4 L 425.5 1231.3 L 426.0 1230.3 L 426.5 1229.3 L 427.0 1228.3 L 427.4 1227.4 L 427.8 1226.6 L 428.2 1225.9 L 428.5 1225.3 L 429.6 1222.9 L 430.0 1220.3 L 429.7 1217.7 L 428.8 1215.3 L 427.3 1213.1 L 425.3 1211.5 L 422.9 1210.4 L 420.3 1210.0 L 417.7 1210.3 L 415.3 1211.2 L 413.1 1212.7 L 411.5 1214.7 L 411.1 1215.3 L 410.6 1215.9 L 410.1 1216.5 L 409.5 1217.3 L 408.9 1218.1 L 408.2 1219.0 L 407.5 1219.9 L 406.7 1220.9 L 405.9 1222.0 L 405.1 1223.0 L 404.3 1224.1 L 403.4 1225.3 L 402.5 1226.5 L 401.7 1227.7 L 400.8 1228.9 L 399.9 1230.1 L 399.1 1231.4 L 398.2 1232.6 L 397.4 1233.9 L 396.6 1235.1 L 395.8 1236.4 L 395.0 1237.6 L 394.3 1238.8 L 393.6 1240.0 L 392.9 1241.2 L 392.2 1242.5 L 391.5 1243.8 L 390.8 1245.1 L 390.1 1246.5 L 389.3 1247.8 L 388.6 1249.2 L 387.9 1250.6 L 387.2 1252.0 L 386.5 1253.4 L 385.9 1254.8 L 385.2 1256.2 L 384.6 1257.5 L 383.9 1258.9 L 383.3 1260.1 L 382.7 1261.4 L 382.2 1262.6 L 381.7 1263.7 L 381.2 1264.8 L 380.7 1265.7 L 380.3 1266.6 L 379.9 1267.5 L 379.6 1268.2 L 379.3 1268.8 L 378.3 1271.5 L 378.0 1274.4 L 378.5 1277.2 L 379.7 1279.8 L 381.5 1282.0 L 383.8 1283.7 L 386.5 1284.7 L 389.4 1285.0 L 392.2 1284.5 L 394.8 1283.3 L 397.0 1281.5 Z" fill="#5d8cc4" stroke="#5d8cc4" stroke-width="4.4" stroke-linejoin="round"/>
<path d="M 416.8 1267.1 L 417.4 1266.5 L 418.2 1265.8 L 419.0 1265.0 L 419.8 1264.1 L 420.7 1263.2 L 421.7 1262.2 L 422.7 1261.1 L 423.8 1260.0 L 424.9 1258.9 L 426.0 1257.7 L 427.2 1256.5 L 428.5 1255.3 L 429.7 1254.1 L 431.0 1252.8 L 432.3 1251.6 L 433.6 1250.3 L 434.9 1249.1 L 436.3 1247.8 L 437.6 1246.6 L 438.9 1245.4 L 440.2 1244.3 L 441.5 1243.2 L 442.8 1242.1 L 444.0 1241.1 L 445.3 1240.1 L 446.7 1239.0 L 448.1 1238.0 L 449.6 1236.9 L 451.2 1235.8 L 452.9 1234.7 L 454.5 1233.6 L 456.2 1232.5 L 457.9 1231.4 L 459.7 1230.3 L 461.4 1229.2 L 463.1 1228.2 L 464.8 1227.2 L 466.5 1226.2 L 468.1 1225.2 L 469.7 1224.3 L 471.2 1223.4 L 472.7 1222.6 L 474.1 1221.8 L 475.3 1221.0 L 476.5 1220.3 L 477.6 1219.7 L 478.6 1219.1 L 479.5 1218.6 L 481.1 1217.2 L 482.2 1215.5 L 482.9 1213.5 L 483.0 1211.4 L 482.6 1209.4 L 481.6 1207.5 L 480.2 1205.9 L 478.5 1204.8 L 476.5 1204.1 L 474.4 1204.0 L 472.4 1204.4 L 470.5 1205.4 L 469.8 1206.0 L 468.9 1206.6 L 468.0 1207.3 L 466.9 1208.1 L 465.7 1209.0 L 464.4 1209.9 L 463.1 1210.9 L 461.6 1212.0 L 460.1 1213.1 L 458.6 1214.2 L 457.0 1215.4 L 455.4 1216.5 L 453.7 1217.8 L 452.0 1219.0 L 450.4 1220.2 L 448.7 1221.4 L 447.0 1222.7 L 445.3 1223.9 L 443.6 1225.1 L 442.0 1226.3 L 440.4 1227.5 L 438.9 1228.7 L 437.4 1229.8 L 436.0 1230.9 L 434.6 1232.0 L 433.2 1233.2 L 431.7 1234.4 L 430.3 1235.6 L 428.9 1236.8 L 427.5 1238.1 L 426.0 1239.4 L 424.6 1240.6 L 423.2 1241.9 L 421.8 1243.2 L 420.5 1244.4 L 419.2 1245.7 L 417.9 1246.9 L 416.6 1248.1 L 415.4 1249.2 L 414.2 1250.3 L 413.1 1251.4 L 412.1 1252.4 L 411.1 1253.3 L 410.1 1254.2 L 409.3 1255.0 L 408.5 1255.7 L 407.8 1256.3 L 407.2 1256.9 L 406.0 1258.3 L 405.3 1260.0 L 405.0 1261.8 L 405.2 1263.6 L 405.8 1265.3 L 406.9 1266.8 L 408.3 1268.0 L 410.0 1268.7 L 411.8 1269.0 L 413.6 1268.8 L 415.3 1268.2 Z" fill="#5d8cc4" stroke="#5d8cc4" stroke-width="4.4" stroke-linejoin="round"/>
<path d="M 484.2 1233.4 L 484.8 1232.7 L 485.6 1231.8 L 486.5 1230.9 L 487.4 1229.9 L 488.4 1228.8 L 489.5 1227.7 L 490.7 1226.4 L 491.9 1225.1 L 493.1 1223.8 L 494.4 1222.4 L 495.8 1220.9 L 497.2 1219.5 L 498.5 1218.0 L 500.0 1216.4 L 501.4 1214.9 L 502.8 1213.4 L 504.2 1211.8 L 505.6 1210.3 L 507.0 1208.8 L 508.4 1207.3 L 509.7 1205.9 L 511.0 1204.5 L 512.3 1203.1 L 513.5 1201.8 L 514.7 1200.5 L 515.9 1199.1 L 517.2 1197.8 L 518.5 1196.4 L 519.8 1195.0 L 521.2 1193.5 L 522.5 1192.1 L 523.9 1190.6 L 525.3 1189.2 L 526.7 1187.8 L 528.0 1186.4 L 529.3 1185.0 L 530.7 1183.6 L 531.9 1182.3 L 533.2 1181.0 L 534.4 1179.8 L 535.5 1178.6 L 536.6 1177.5 L 537.7 1176.4 L 538.7 1175.4 L 539.6 1174.5 L 540.4 1173.6 L 541.1 1172.9 L 541.8 1172.2 L 543.6 1169.6 L 544.7 1166.7 L 545.0 1163.6 L 544.5 1160.5 L 543.2 1157.7 L 541.2 1155.2 L 538.6 1153.4 L 535.7 1152.3 L 532.6 1152.0 L 529.5 1152.5 L 526.7 1153.8 L 524.2 1155.8 L 523.6 1156.5 L 522.9 1157.3 L 522.1 1158.1 L 521.3 1159.1 L 520.3 1160.1 L 519.3 1161.2 L 518.3 1162.4 L 517.2 1163.6 L 516.0 1164.9 L 514.8 1166.2 L 513.6 1167.6 L 512.3 1169.0 L 511.0 1170.4 L 509.7 1171.9 L 508.3 1173.4 L 507.0 1174.8 L 505.6 1176.3 L 504.3 1177.8 L 502.9 1179.3 L 501.6 1180.7 L 500.3 1182.1 L 499.0 1183.5 L 497.8 1184.9 L 496.5 1186.2 L 495.3 1187.6 L 494.0 1188.9 L 492.7 1190.4 L 491.4 1191.8 L 490.0 1193.4 L 488.7 1194.9 L 487.3 1196.5 L 485.9 1198.0 L 484.5 1199.6 L 483.1 1201.2 L 481.7 1202.7 L 480.3 1204.3 L 479.0 1205.8 L 477.7 1207.3 L 476.5 1208.7 L 475.2 1210.1 L 474.1 1211.5 L 473.0 1212.7 L 471.9 1213.9 L 470.9 1215.1 L 470.0 1216.1 L 469.2 1217.0 L 468.5 1217.9 L 467.8 1218.6 L 466.2 1221.0 L 465.2 1223.7 L 465.0 1226.5 L 465.5 1229.4 L 466.8 1232.0 L 468.6 1234.2 L 471.0 1235.8 L 473.7 1236.8 L 476.5 1237.0 L 479.4 1236.5 L 482.0 1235.2 Z" fill="#5d8cc4" stroke="#5d8cc4" stroke-width="4.4" stroke-linejoin="round"/>
<circle cx="508" cy="1147" r="11.5" fill="#5d8cc4" stroke="#5d8cc4" stroke-width="4.4"/>
<path d="M 398.7 1279.2 L 399.1 1278.5 L 399.5 1277.8 L 400.0 1277.0 L 400.5 1276.1 L 401.1 1275.2 L 401.7 1274.2 L 402.3 1273.1 L 403.0 1272.0 L 403.6 1270.8 L 404.3 1269.6 L 405.1 1268.3 L 405.8 1267.1 L 406.5 1265.8 L 407.3 1264.5 L 408.1 1263.1 L 408.8 1261.8 L 409.6 1260.5 L 410.3 1259.2 L 411.1 1257.9 L 411.8 1256.6 L 412.5 1255.4 L 413.1 1254.2 L 413.8 1253.1 L 414.4 1252.0 L 415.0 1250.9 L 415.7 1249.8 L 416.4 1248.6 L 417.0 1247.4 L 417.7 1246.1 L 418.4 1244.9 L 419.1 1243.6 L 419.8 1242.3 L 420.5 1241.0 L 421.1 1239.7 L 421.8 1238.5 L 422.5 1237.2 L 423.1 1236.0 L 423.7 1234.7 L 424.4 1233.6 L 424.9 1232.4 L 425.5 1231.3 L 426.0 1230.3 L 426.5 1229.3 L 427.0 1228.3 L 427.4 1227.4 L 427.8 1226.6 L 428.2 1225.9 L 428.5 1225.3 L 429.6 1222.9 L 430.0 1220.3 L 429.7 1217.7 L 428.8 1215.3 L 427.3 1213.1 L 425.3 1211.5 L 422.9 1210.4 L 420.3 1210.0 L 417.7 1210.3 L 415.3 1211.2 L 413.1 1212.7 L 411.5 1214.7 L 411.1 1215.3 L 410.6 1215.9 L 410.1 1216.5 L 409.5 1217.3 L 408.9 1218.1 L 408.2 1219.0 L 407.5 1219.9 L 406.7 1220.9 L 405.9 1222.0 L 405.1 1223.0 L 404.3 1224.1 L 403.4 1225.3 L 402.5 1226.5 L 401.7 1227.7 L 400.8 1228.9 L 399.9 1230.1 L 399.1 1231.4 L 398.2 1232.6 L 397.4 1233.9 L 396.6 1235.1 L 395.8 1236.4 L 395.0 1237.6 L 394.3 1238.8 L 393.6 1240.0 L 392.9 1241.2 L 392.2 1242.5 L 391.5 1243.8 L 390.8 1245.1 L 390.1 1246.5 L 389.3 1247.8 L 388.6 1249.2 L 387.9 1250.6 L 387.2 1252.0 L 386.5 1253.4 L 385.9 1254.8 L 385.2 1256.2 L 384.6 1257.5 L 383.9 1258.9 L 383.3 1260.1 L 382.7 1261.4 L 382.2 1262.6 L 381.7 1263.7 L 381.2 1264.8 L 380.7 1265.7 L 380.3 1266.6 L 379.9 1267.5 L 379.6 1268.2 L 379.3 1268.8 L 378.3 1271.5 L 378.0 1274.4 L 378.5 1277.2 L 379.7 1279.8 L 381.5 1282.0 L 383.8 1283.7 L 386.5 1284.7 L 389.4 1285.0 L 392.2 1284.5 L 394.8 1283.3 L 397.0 1281.5 Z" fill="#d4d8ee"/>
<path d="M 416.8 1267.1 L 417.4 1266.5 L 418.2 1265.8 L 419.0 1265.0 L 419.8 1264.1 L 420.7 1263.2 L 421.7 1262.2 L 422.7 1261.1 L 423.8 1260.0 L 424.9 1258.9 L 426.0 1257.7 L 427.2 1256.5 L 428.5 1255.3 L 429.7 1254.1 L 431.0 1252.8 L 432.3 1251.6 L 433.6 1250.3 L 434.9 1249.1 L 436.3 1247.8 L 437.6 1246.6 L 438.9 1245.4 L 440.2 1244.3 L 441.5 1243.2 L 442.8 1242.1 L 444.0 1241.1 L 445.3 1240.1 L 446.7 1239.0 L 448.1 1238.0 L 449.6 1236.9 L 451.2 1235.8 L 452.9 1234.7 L 454.5 1233.6 L 456.2 1232.5 L 457.9 1231.4 L 459.7 1230.3 L 461.4 1229.2 L 463.1 1228.2 L 464.8 1227.2 L 466.5 1226.2 L 468.1 1225.2 L 469.7 1224.3 L 471.2 1223.4 L 472.7 1222.6 L 474.1 1221.8 L 475.3 1221.0 L 476.5 1220.3 L 477.6 1219.7 L 478.6 1219.1 L 479.5 1218.6 L 481.1 1217.2 L 482.2 1215.5 L 482.9 1213.5 L 483.0 1211.4 L 482.6 1209.4 L 481.6 1207.5 L 480.2 1205.9 L 478.5 1204.8 L 476.5 1204.1 L 474.4 1204.0 L 472.4 1204.4 L 470.5 1205.4 L 469.8 1206.0 L 468.9 1206.6 L 468.0 1207.3 L 466.9 1208.1 L 465.7 1209.0 L 464.4 1209.9 L 463.1 1210.9 L 461.6 1212.0 L 460.1 1213.1 L 458.6 1214.2 L 457.0 1215.4 L 455.4 1216.5 L 453.7 1217.8 L 452.0 1219.0 L 450.4 1220.2 L 448.7 1221.4 L 447.0 1222.7 L 445.3 1223.9 L 443.6 1225.1 L 442.0 1226.3 L 440.4 1227.5 L 438.9 1228.7 L 437.4 1229.8 L 436.0 1230.9 L 434.6 1232.0 L 433.2 1233.2 L 431.7 1234.4 L 430.3 1235.6 L 428.9 1236.8 L 427.5 1238.1 L 426.0 1239.4 L 424.6 1240.6 L 423.2 1241.9 L 421.8 1243.2 L 420.5 1244.4 L 419.2 1245.7 L 417.9 1246.9 L 416.6 1248.1 L 415.4 1249.2 L 414.2 1250.3 L 413.1 1251.4 L 412.1 1252.4 L 411.1 1253.3 L 410.1 1254.2 L 409.3 1255.0 L 408.5 1255.7 L 407.8 1256.3 L 407.2 1256.9 L 406.0 1258.3 L 405.3 1260.0 L 405.0 1261.8 L 405.2 1263.6 L 405.8 1265.3 L 406.9 1266.8 L 408.3 1268.0 L 410.0 1268.7 L 411.8 1269.0 L 413.6 1268.8 L 415.3 1268.2 Z" fill="#d4d8ee"/>
<path d="M 484.2 1233.4 L 484.8 1232.7 L 485.6 1231.8 L 486.5 1230.9 L 487.4 1229.9 L 488.4 1228.8 L 489.5 1227.7 L 490.7 1226.4 L 491.9 1225.1 L 493.1 1223.8 L 494.4 1222.4 L 495.8 1220.9 L 497.2 1219.5 L 498.5 1218.0 L 500.0 1216.4 L 501.4 1214.9 L 502.8 1213.4 L 504.2 1211.8 L 505.6 1210.3 L 507.0 1208.8 L 508.4 1207.3 L 509.7 1205.9 L 511.0 1204.5 L 512.3 1203.1 L 513.5 1201.8 L 514.7 1200.5 L 515.9 1199.1 L 517.2 1197.8 L 518.5 1196.4 L 519.8 1195.0 L 521.2 1193.5 L 522.5 1192.1 L 523.9 1190.6 L 525.3 1189.2 L 526.7 1187.8 L 528.0 1186.4 L 529.3 1185.0 L 530.7 1183.6 L 531.9 1182.3 L 533.2 1181.0 L 534.4 1179.8 L 535.5 1178.6 L 536.6 1177.5 L 537.7 1176.4 L 538.7 1175.4 L 539.6 1174.5 L 540.4 1173.6 L 541.1 1172.9 L 541.8 1172.2 L 543.6 1169.6 L 544.7 1166.7 L 545.0 1163.6 L 544.5 1160.5 L 543.2 1157.7 L 541.2 1155.2 L 538.6 1153.4 L 535.7 1152.3 L 532.6 1152.0 L 529.5 1152.5 L 526.7 1153.8 L 524.2 1155.8 L 523.6 1156.5 L 522.9 1157.3 L 522.1 1158.1 L 521.3 1159.1 L 520.3 1160.1 L 519.3 1161.2 L 518.3 1162.4 L 517.2 1163.6 L 516.0 1164.9 L 514.8 1166.2 L 513.6 1167.6 L 512.3 1169.0 L 511.0 1170.4 L 509.7 1171.9 L 508.3 1173.4 L 507.0 1174.8 L 505.6 1176.3 L 504.3 1177.8 L 502.9 1179.3 L 501.6 1180.7 L 500.3 1182.1 L 499.0 1183.5 L 497.8 1184.9 L 496.5 1186.2 L 495.3 1187.6 L 494.0 1188.9 L 492.7 1190.4 L 491.4 1191.8 L 490.0 1193.4 L 488.7 1194.9 L 487.3 1196.5 L 485.9 1198.0 L 484.5 1199.6 L 483.1 1201.2 L 481.7 1202.7 L 480.3 1204.3 L 479.0 1205.8 L 477.7 1207.3 L 476.5 1208.7 L 475.2 1210.1 L 474.1 1211.5 L 473.0 1212.7 L 471.9 1213.9 L 470.9 1215.1 L 470.0 1216.1 L 469.2 1217.0 L 468.5 1217.9 L 467.8 1218.6 L 466.2 1221.0 L 465.2 1223.7 L 465.0 1226.5 L 465.5 1229.4 L 466.8 1232.0 L 468.6 1234.2 L 471.0 1235.8 L 473.7 1236.8 L 476.5 1237.0 L 479.4 1236.5 L 482.0 1235.2 Z" fill="#d4d8ee"/>
<circle cx="508" cy="1147" r="11.5" fill="#d4d8ee"/>
<path d="M 355.2 1319.1 L 355.3 1318.7 L 355.5 1318.1 L 355.6 1317.6 L 355.8 1316.9 L 355.9 1316.3 L 356.1 1315.6 L 356.3 1314.8 L 356.5 1314.0 L 356.7 1313.2 L 356.9 1312.4 L 357.1 1311.6 L 357.3 1310.7 L 357.5 1309.8 L 357.8 1308.9 L 358.0 1308.0 L 358.2 1307.1 L 358.5 1306.2 L 358.7 1305.4 L 358.9 1304.5 L 359.2 1303.7 L 359.4 1302.8 L 359.6 1302.1 L 359.9 1301.3 L 360.1 1300.6 L 360.3 1299.9 L 360.6 1299.2 L 360.8 1298.4 L 361.1 1297.6 L 361.4 1296.8 L 361.7 1296.0 L 362.0 1295.2 L 362.3 1294.3 L 362.6 1293.5 L 362.9 1292.6 L 363.2 1291.8 L 363.5 1290.9 L 363.8 1290.1 L 364.1 1289.3 L 364.4 1288.5 L 364.7 1287.7 L 365.0 1287.0 L 365.2 1286.3 L 365.5 1285.6 L 365.7 1285.0 L 365.9 1284.4 L 366.1 1283.9 L 366.3 1283.4 L 366.4 1282.9 L 366.9 1280.9 L 366.9 1278.8 L 366.3 1276.8 L 365.3 1275.0 L 363.8 1273.6 L 361.9 1272.6 L 359.9 1272.1 L 357.8 1272.1 L 355.8 1272.7 L 354.0 1273.7 L 352.6 1275.2 L 351.6 1277.1 L 351.4 1277.4 L 351.2 1277.9 L 351.0 1278.3 L 350.7 1278.9 L 350.5 1279.5 L 350.2 1280.1 L 349.9 1280.8 L 349.5 1281.5 L 349.2 1282.3 L 348.8 1283.1 L 348.5 1283.9 L 348.1 1284.7 L 347.7 1285.6 L 347.4 1286.4 L 347.0 1287.3 L 346.6 1288.2 L 346.2 1289.1 L 345.9 1290.0 L 345.5 1290.9 L 345.2 1291.8 L 344.8 1292.7 L 344.5 1293.6 L 344.2 1294.5 L 343.9 1295.4 L 343.6 1296.3 L 343.4 1297.2 L 343.1 1298.1 L 342.8 1299.0 L 342.6 1299.9 L 342.3 1300.9 L 342.0 1301.8 L 341.8 1302.8 L 341.5 1303.8 L 341.3 1304.7 L 341.0 1305.6 L 340.8 1306.6 L 340.6 1307.5 L 340.4 1308.3 L 340.2 1309.2 L 340.0 1310.0 L 339.8 1310.8 L 339.6 1311.6 L 339.4 1312.3 L 339.3 1312.9 L 339.1 1313.5 L 339.0 1314.0 L 338.9 1314.5 L 338.8 1314.9 L 338.5 1317.1 L 338.8 1319.3 L 339.7 1321.3 L 341.0 1323.1 L 342.8 1324.4 L 344.9 1325.2 L 347.1 1325.5 L 349.3 1325.2 L 351.3 1324.3 L 353.1 1323.0 L 354.4 1321.2 Z" fill="#d4d8ee" stroke="#5d8cc4" stroke-width="2.2" stroke-linejoin="round"/>
<path d="M 401.4 1339.3 L 401.6 1338.8 L 401.9 1338.1 L 402.2 1337.4 L 402.5 1336.6 L 402.9 1335.7 L 403.3 1334.8 L 403.7 1333.8 L 404.1 1332.8 L 404.6 1331.8 L 405.0 1330.7 L 405.5 1329.6 L 406.0 1328.4 L 406.5 1327.2 L 407.0 1326.1 L 407.5 1324.9 L 408.0 1323.7 L 408.5 1322.5 L 409.0 1321.3 L 409.5 1320.1 L 409.9 1319.0 L 410.4 1317.9 L 410.9 1316.8 L 411.3 1315.7 L 411.7 1314.7 L 412.2 1313.7 L 412.6 1312.7 L 413.1 1311.6 L 413.5 1310.5 L 414.0 1309.4 L 414.5 1308.2 L 414.9 1307.1 L 415.4 1305.9 L 415.9 1304.7 L 416.3 1303.5 L 416.8 1302.4 L 417.2 1301.2 L 417.7 1300.1 L 418.1 1299.0 L 418.5 1297.9 L 418.9 1296.8 L 419.3 1295.8 L 419.6 1294.9 L 420.0 1294.0 L 420.3 1293.1 L 420.6 1292.3 L 420.8 1291.6 L 421.1 1290.9 L 421.3 1290.3 L 421.9 1288.4 L 422.0 1286.3 L 421.5 1284.2 L 420.5 1282.4 L 419.1 1280.8 L 417.3 1279.7 L 415.4 1279.1 L 413.3 1279.0 L 411.2 1279.5 L 409.4 1280.5 L 407.8 1281.9 L 406.7 1283.7 L 406.4 1284.2 L 406.1 1284.7 L 405.7 1285.4 L 405.3 1286.1 L 404.9 1286.9 L 404.4 1287.7 L 403.9 1288.6 L 403.3 1289.5 L 402.8 1290.5 L 402.2 1291.5 L 401.6 1292.6 L 401.0 1293.7 L 400.4 1294.8 L 399.8 1295.9 L 399.2 1297.0 L 398.6 1298.2 L 398.0 1299.3 L 397.4 1300.5 L 396.8 1301.7 L 396.3 1302.8 L 395.7 1303.9 L 395.2 1305.1 L 394.7 1306.2 L 394.3 1307.3 L 393.8 1308.3 L 393.3 1309.5 L 392.9 1310.6 L 392.4 1311.8 L 391.9 1313.0 L 391.4 1314.2 L 390.9 1315.4 L 390.5 1316.7 L 390.0 1317.9 L 389.5 1319.2 L 389.1 1320.4 L 388.6 1321.6 L 388.2 1322.8 L 387.8 1323.9 L 387.4 1325.0 L 387.0 1326.1 L 386.6 1327.2 L 386.3 1328.2 L 385.9 1329.1 L 385.6 1330.0 L 385.3 1330.8 L 385.1 1331.5 L 384.8 1332.1 L 384.6 1332.7 L 384.1 1335.0 L 384.1 1337.3 L 384.7 1339.6 L 385.9 1341.6 L 387.6 1343.2 L 389.7 1344.4 L 392.0 1344.9 L 394.3 1344.9 L 396.6 1344.3 L 398.6 1343.1 L 400.2 1341.4 Z" fill="#d4d8ee" stroke="#5d8cc4" stroke-width="2.2" stroke-linejoin="round"/>
<path d="M 371.0 1391.5 L 371.0 1390.9 L 371.1 1390.3 L 371.2 1389.6 L 371.2 1388.8 L 371.3 1387.9 L 371.3 1387.0 L 371.4 1386.1 L 371.5 1385.1 L 371.6 1384.1 L 371.6 1383.1 L 371.7 1382.0 L 371.8 1380.9 L 371.9 1379.8 L 372.0 1378.6 L 372.1 1377.5 L 372.2 1376.4 L 372.3 1375.2 L 372.4 1374.1 L 372.5 1373.0 L 372.5 1372.0 L 372.6 1370.9 L 372.7 1369.9 L 372.8 1369.0 L 372.9 1368.0 L 373.0 1367.1 L 373.2 1366.2 L 373.3 1365.2 L 373.4 1364.2 L 373.6 1363.1 L 373.7 1362.1 L 373.8 1361.0 L 374.0 1359.9 L 374.1 1358.8 L 374.3 1357.7 L 374.4 1356.7 L 374.6 1355.6 L 374.7 1354.5 L 374.8 1353.5 L 375.0 1352.5 L 375.1 1351.5 L 375.2 1350.6 L 375.4 1349.7 L 375.5 1348.8 L 375.6 1348.0 L 375.7 1347.3 L 375.7 1346.6 L 375.8 1346.0 L 375.9 1345.4 L 376.0 1343.3 L 375.5 1341.3 L 374.6 1339.4 L 373.2 1337.9 L 371.4 1336.8 L 369.4 1336.1 L 367.3 1336.0 L 365.3 1336.5 L 363.4 1337.4 L 361.9 1338.8 L 360.8 1340.6 L 360.1 1342.6 L 360.0 1343.1 L 359.9 1343.6 L 359.7 1344.3 L 359.5 1344.9 L 359.3 1345.7 L 359.1 1346.5 L 358.9 1347.4 L 358.6 1348.3 L 358.4 1349.3 L 358.1 1350.3 L 357.9 1351.3 L 357.6 1352.4 L 357.4 1353.5 L 357.1 1354.6 L 356.8 1355.8 L 356.6 1356.9 L 356.4 1358.0 L 356.1 1359.2 L 355.9 1360.3 L 355.7 1361.5 L 355.5 1362.6 L 355.3 1363.8 L 355.2 1364.9 L 355.1 1366.0 L 354.9 1367.0 L 354.8 1368.2 L 354.7 1369.3 L 354.6 1370.5 L 354.5 1371.7 L 354.5 1372.9 L 354.4 1374.1 L 354.4 1375.3 L 354.3 1376.5 L 354.3 1377.6 L 354.2 1378.8 L 354.2 1380.0 L 354.2 1381.1 L 354.1 1382.2 L 354.1 1383.3 L 354.1 1384.4 L 354.1 1385.3 L 354.1 1386.3 L 354.1 1387.2 L 354.1 1388.0 L 354.0 1388.7 L 354.0 1389.4 L 354.0 1390.0 L 354.0 1390.5 L 354.2 1392.7 L 354.9 1394.8 L 356.1 1396.6 L 357.8 1398.1 L 359.8 1399.1 L 362.0 1399.5 L 364.2 1399.3 L 366.3 1398.6 L 368.1 1397.4 L 369.6 1395.7 L 370.6 1393.7 Z" fill="#d4d8ee" stroke="#5d8cc4" stroke-width="2.2" stroke-linejoin="round"/>
<g transform="translate(352,1338) rotate(41.6)"><line x1="0" y1="-4" x2="0" y2="-182.4" stroke="#404040" stroke-width="3" /><rect x="-12.0" y="-8" width="24" height="8" rx="3" fill="#b33d93" stroke="#7a1d60" stroke-width="1.2"/><rect x="-12.0" y="-18" width="24" height="6" rx="3" fill="#f1dcbb" stroke="#9c5522" stroke-width="1.2"/><rect x="-13.0" y="-60.00" width="26" height="5.2" rx="2.6" fill="#56a6da" stroke="#1f5c8e" stroke-width="1.2"/><rect x="-13.0" y="-54.80" width="26" height="5.2" rx="2.6" fill="#56a6da" stroke="#1f5c8e" stroke-width="1.2"/><rect x="-13.0" y="-49.60" width="26" height="5.2" rx="2.6" fill="#56a6da" stroke="#1f5c8e" stroke-width="1.2"/><rect x="-13.0" y="-44.40" width="26" height="5.2" rx="2.6" fill="#56a6da" stroke="#1f5c8e" stroke-width="1.2"/><rect x="-13.0" y="-39.20" width="26" height="5.2" rx="2.6" fill="#56a6da" stroke="#1f5c8e" stroke-width="1.2"/><rect x="-13.0" y="-34.00" width="26" height="5.2" rx="2.6" fill="#56a6da" stroke="#1f5c8e" stroke-width="1.2"/><rect x="-13.0" y="-28.80" width="26" height="5.2" rx="2.6" fill="#56a6da" stroke="#1f5c8e" stroke-width="1.2"/><rect x="-13.0" y="-23.60" width="26" height="5.2" rx="2.6" fill="#56a6da" stroke="#1f5c8e" stroke-width="1.2"/><rect x="-12.0" y="-70" width="24" height="6" rx="3" fill="#f1dcbb" stroke="#9c5522" stroke-width="1.2"/><rect x="-12.0" y="-89" width="24" height="16" rx="5" fill="#9063c1" stroke="#3f2a6a" stroke-width="1.3"/><rect x="-10.0" y="-179.40" width="20" height="5.666666666666667" rx="2.6" fill="#3d9a3f" stroke="#1c5a1c" stroke-width="1.2"/><rect x="-10.0" y="-173.73" width="20" height="5.666666666666667" rx="2.6" fill="#3d9a3f" stroke="#1c5a1c" stroke-width="1.2"/><rect x="-10.0" y="-168.07" width="20" height="5.666666666666667" rx="2.6" fill="#3d9a3f" stroke="#1c5a1c" stroke-width="1.2"/><rect x="-13.0" y="-252.40" width="26" height="5.384615384615385" rx="2.6" fill="#b6e1df" stroke="#3aa3ad" stroke-width="1.1"/><rect x="-13.0" y="-247.02" width="26" height="5.384615384615385" rx="2.6" fill="#b6e1df" stroke="#3aa3ad" stroke-width="1.1"/><rect x="-13.0" y="-241.63" width="26" height="5.384615384615385" rx="2.6" fill="#b6e1df" stroke="#3aa3ad" stroke-width="1.1"/><rect x="-13.0" y="-236.25" width="26" height="5.384615384615385" rx="2.6" fill="#b6e1df" stroke="#3aa3ad" stroke-width="1.1"/><rect x="-13.0" y="-230.86" width="26" height="5.384615384615385" rx="2.6" fill="#b6e1df" stroke="#3aa3ad" stroke-width="1.1"/><rect x="-13.0" y="-225.48" width="26" height="5.384615384615385" rx="2.6" fill="#b6e1df" stroke="#3aa3ad" stroke-width="1.1"/><rect x="-13.0" y="-220.09" width="26" height="5.384615384615385" rx="2.6" fill="#b6e1df" stroke="#3aa3ad" stroke-width="1.1"/><rect x="-13.0" y="-214.71" width="26" height="5.384615384615385" rx="2.6" fill="#b6e1df" stroke="#3aa3ad" stroke-width="1.1"/><rect x="-13.0" y="-209.32" width="26" height="5.384615384615385" rx="2.6" fill="#b6e1df" stroke="#3aa3ad" stroke-width="1.1"/><rect x="-13.0" y="-203.94" width="26" height="5.384615384615385" rx="2.6" fill="#b6e1df" stroke="#3aa3ad" stroke-width="1.1"/><rect x="-13.0" y="-198.55" width="26" height="5.384615384615385" rx="2.6" fill="#b6e1df" stroke="#3aa3ad" stroke-width="1.1"/><rect x="-13.0" y="-193.17" width="26" height="5.384615384615385" rx="2.6" fill="#b6e1df" stroke="#3aa3ad" stroke-width="1.1"/><rect x="-13.0" y="-187.78" width="26" height="5.384615384615385" rx="2.6" fill="#b6e1df" stroke="#3aa3ad" stroke-width="1.1"/></g>
<text x="65.5" y="79" font-size="46" font-weight="bold" fill="#5a4189" text-anchor="start" textLength="525" lengthAdjust="spacingAndGlyphs">Notch Signaling Pathway</text>
<text x="880.6" y="83.5" font-size="41" font-weight="bold" fill="#5a4189" text-anchor="start" textLength="195" lengthAdjust="spacingAndGlyphs">Sender cell</text>
<text x="807.4" y="251" font-size="29" font-weight="bold" fill="#111" text-anchor="start" textLength="253.6" lengthAdjust="spacingAndGlyphs">Trans-endocytosis</text>
<text x="461" y="298" font-size="29.5" font-weight="bold" fill="#111" text-anchor="start" textLength="90.8" lengthAdjust="spacingAndGlyphs">Ligand</text>
<text x="424.3" y="332" font-size="29.5" font-weight="bold" fill="#111" text-anchor="start" textLength="164.2" lengthAdjust="spacingAndGlyphs">endocytosis</text>
<text x="154.3" y="402.7" font-size="29" font-weight="bold" fill="#111" text-anchor="start" textLength="170.7" lengthAdjust="spacingAndGlyphs">Notch ligand</text>
<text x="873" y="536.3" font-size="29.5" font-weight="bold" fill="#222" text-anchor="start" textLength="76.7" lengthAdjust="spacingAndGlyphs">NECD</text>
<text x="1195.4" y="591" font-size="27.5" font-weight="bold" fill="#111" text-anchor="start" textLength="262.6" lengthAdjust="spacingAndGlyphs">Extracellular region</text>
<text x="40" y="675" font-size="30" font-weight="bold" fill="#222" text-anchor="start" textLength="80.2" lengthAdjust="spacingAndGlyphs">Notch</text>
<text x="40" y="709.1" font-size="30" font-weight="bold" fill="#222" text-anchor="start" textLength="113.8" lengthAdjust="spacingAndGlyphs">receptor</text>
<text x="333.4" y="713.7" font-size="28.5" font-weight="bold" fill="#222" text-anchor="start" textLength="167.2" lengthAdjust="spacingAndGlyphs">ADAM10/17</text>
<text x="818.8" y="709.5" font-size="29.5" font-weight="bold" fill="#222" text-anchor="start" textLength="160.4" lengthAdjust="spacingAndGlyphs">γ-secretase</text>
<text x="317.7" y="815.3" font-size="29" font-weight="bold" fill="#222" text-anchor="start" textLength="164.6" lengthAdjust="spacingAndGlyphs">S2 cleavage</text>
<text x="789.7" y="815" font-size="29" font-weight="bold" fill="#222" text-anchor="start" textLength="164.6" lengthAdjust="spacingAndGlyphs">S3 cleavage</text>
<text x="1245.4" y="854.9" font-size="28.6" font-weight="bold" fill="#222" text-anchor="start" textLength="68.4" lengthAdjust="spacingAndGlyphs">NICD</text>
<text x="1159" y="1000" font-size="27.5" font-weight="bold" fill="#9c2a7c" text-anchor="start" textLength="258" lengthAdjust="spacingAndGlyphs">Non-canonical Notch</text>
<text x="1231" y="1031" font-size="27.5" font-weight="bold" fill="#9c2a7c" text-anchor="start" textLength="113" lengthAdjust="spacingAndGlyphs">signaling</text>
<text x="1180" y="1061" font-size="27.5" font-weight="bold" fill="#9c2a7c" text-anchor="start" textLength="207" lengthAdjust="spacingAndGlyphs">( Wnt, JAK/STAT,</text>
<text x="1166" y="1092" font-size="27.5" font-weight="bold" fill="#9c2a7c" text-anchor="start" textLength="243" lengthAdjust="spacingAndGlyphs">PI3K/AKT, NF-κB...)</text>
<text x="283" y="1078.2" font-size="29" font-weight="bold" fill="#222" text-anchor="start" textLength="164.8" lengthAdjust="spacingAndGlyphs">S1 cleavage</text>
<text x="839.7" y="1122.9" font-size="26.5" font-weight="bold" fill="#111" text-anchor="start" textLength="95" lengthAdjust="spacingAndGlyphs">Nucleus</text>
<text x="1001.3" y="1166" font-size="26" font-weight="bold" fill="#9c2a7c" text-anchor="start" textLength="201" lengthAdjust="spacingAndGlyphs">Canonical Notch</text>
<text x="1045.7" y="1196.7" font-size="26" font-weight="bold" fill="#9c2a7c" text-anchor="start" textLength="111.7" lengthAdjust="spacingAndGlyphs">signaling</text>
<text x="193" y="1218.6" font-size="29" font-weight="bold" fill="#111" text-anchor="start" textLength="179.2" lengthAdjust="spacingAndGlyphs">glycosylation</text>
<text x="758.6" y="1234.7" font-size="29" font-weight="bold" fill="#222" text-anchor="start" textLength="38.4" lengthAdjust="spacingAndGlyphs">No</text>
<text x="690.3" y="1268.7" font-size="29" font-weight="bold" fill="#222" text-anchor="start" textLength="173.4" lengthAdjust="spacingAndGlyphs">transcription</text>
<text x="588.8" y="1284.3" font-size="27.5" font-weight="normal" fill="#111" text-anchor="start" textLength="63.9" lengthAdjust="spacingAndGlyphs">Co-R</text>
<text x="593.5" y="1335.7" font-size="29" font-weight="normal" fill="#111" text-anchor="start" textLength="53.3" lengthAdjust="spacingAndGlyphs">CSL</text>
<text x="989" y="1240.7" font-size="28" font-weight="normal" fill="#111" text-anchor="start" textLength="64.7" lengthAdjust="spacingAndGlyphs">Co-A</text>
<text x="977" y="1287" font-size="28" font-weight="normal" fill="#111" text-anchor="start" textLength="90" lengthAdjust="spacingAndGlyphs">MAML</text>
<text x="983.7" y="1334" font-size="27" font-weight="normal" fill="#111" text-anchor="start" textLength="54" lengthAdjust="spacingAndGlyphs">CSL</text>
<text x="1160" y="1277.2" font-size="29" font-weight="bold" fill="#222" text-anchor="start" textLength="170" lengthAdjust="spacingAndGlyphs">Notch target</text>
<text x="1204.1" y="1311.5" font-size="29" font-weight="bold" fill="#222" text-anchor="start" textLength="82.5" lengthAdjust="spacingAndGlyphs">genes</text>
<text x="87" y="1299" font-size="29" font-weight="bold" fill="#111" text-anchor="start" textLength="72" lengthAdjust="spacingAndGlyphs">Golgi</text>
<text x="294.6" y="1340" font-size="28" font-weight="bold" fill="#111" text-anchor="start" textLength="36.4" lengthAdjust="spacingAndGlyphs">ER</text>
<text x="73.8" y="1418.4" font-size="38.5" font-weight="bold" fill="#5a4189" text-anchor="start" textLength="232.4" lengthAdjust="spacingAndGlyphs">Receiver Cell</text>
<text x="482.8" y="1418.4" font-size="29.5" font-weight="bold" fill="#c03030" text-anchor="start" textLength="384.6" lengthAdjust="spacingAndGlyphs">Unactivated Notch Signaling</text>
<text x="933.3" y="1418.4" font-size="29.5" font-weight="bold" fill="#2f5f2a" text-anchor="start" textLength="353.5" lengthAdjust="spacingAndGlyphs">Activated Notch Signaling</text>
</svg></body></html>
